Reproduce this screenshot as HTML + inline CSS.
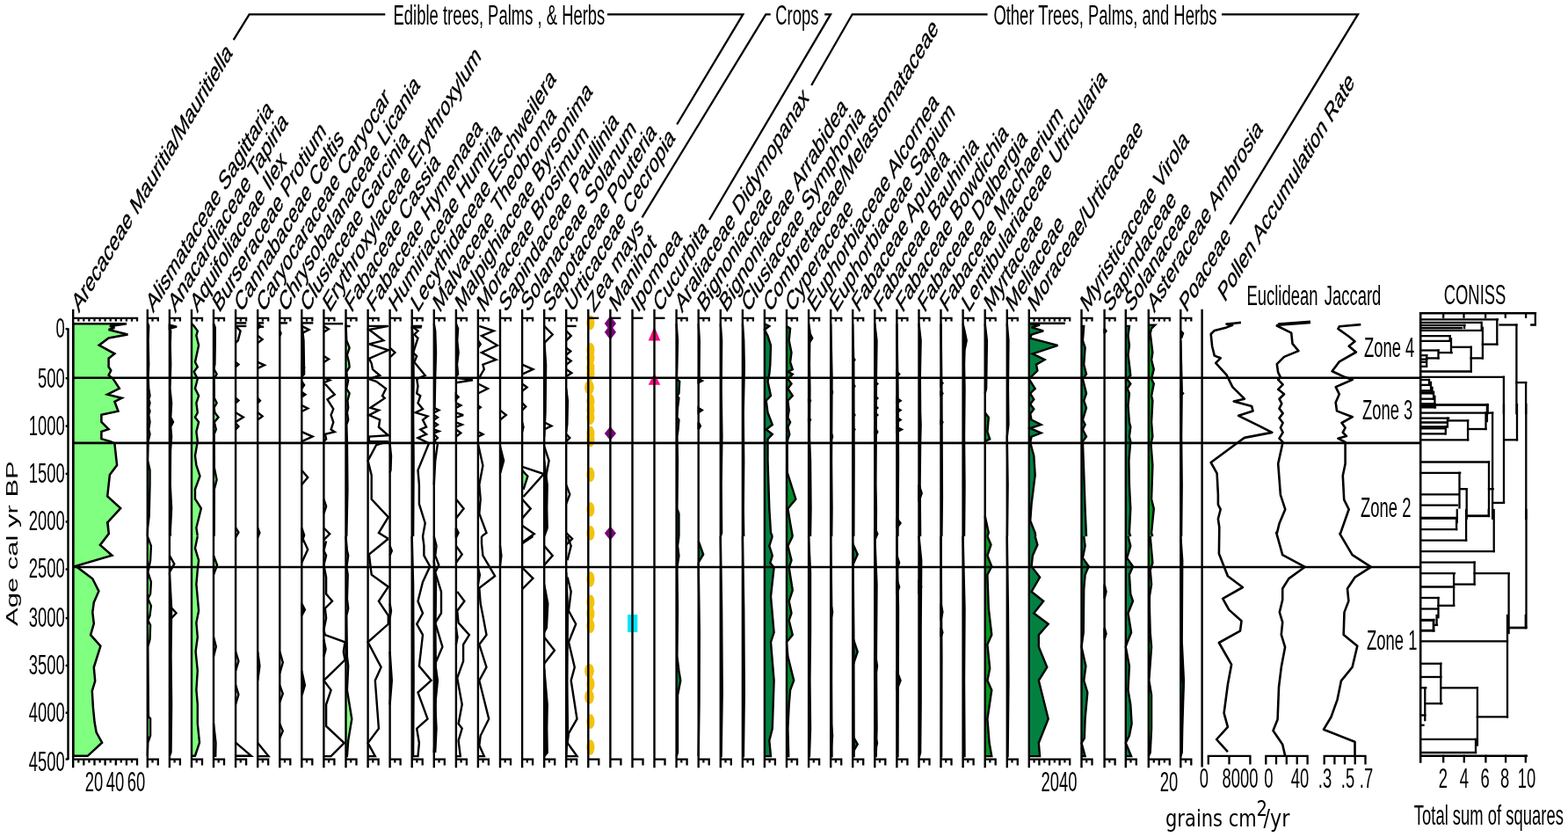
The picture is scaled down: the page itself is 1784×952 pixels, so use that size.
<!DOCTYPE html>
<html><head><meta charset="utf-8"><title>Pollen diagram</title>
<style>html,body{margin:0;padding:0;background:#fff;overflow:hidden}svg{display:block}</style>
</head><body>
<svg width="1784" height="952" viewBox="0 0 1784 952">
<rect width="1784" height="952" fill="#fff"/>
<g font-family="'Liberation Sans', Arial, sans-serif" fill="#000">
<ellipse cx="671.9" cy="367.0" rx="4.6" ry="8.3" fill="#f5c20c"/>
<ellipse cx="671.9" cy="398.2" rx="4.6" ry="8.3" fill="#f5c20c"/>
<ellipse cx="671.9" cy="406.7" rx="4.6" ry="8.3" fill="#f5c20c"/>
<ellipse cx="671.9" cy="418.0" rx="4.6" ry="8.3" fill="#f5c20c"/>
<ellipse cx="671.9" cy="425.0" rx="4.6" ry="8.3" fill="#f5c20c"/>
<ellipse cx="671.9" cy="456.3" rx="4.6" ry="8.3" fill="#f5c20c"/>
<ellipse cx="671.9" cy="466.2" rx="4.6" ry="8.3" fill="#f5c20c"/>
<ellipse cx="671.9" cy="474.7" rx="4.6" ry="8.3" fill="#f5c20c"/>
<ellipse cx="671.9" cy="493.1" rx="4.6" ry="8.3" fill="#f5c20c"/>
<ellipse cx="671.9" cy="500.2" rx="4.6" ry="8.3" fill="#f5c20c"/>
<ellipse cx="671.9" cy="539.9" rx="4.6" ry="8.3" fill="#f5c20c"/>
<ellipse cx="671.9" cy="579.5" rx="4.6" ry="8.3" fill="#f5c20c"/>
<ellipse cx="671.9" cy="606.4" rx="4.6" ry="8.3" fill="#f5c20c"/>
<ellipse cx="671.9" cy="684.7" rx="4.6" ry="8.3" fill="#f5c20c"/>
<ellipse cx="671.9" cy="697.9" rx="4.6" ry="8.3" fill="#f5c20c"/>
<ellipse cx="671.9" cy="711.8" rx="4.6" ry="8.3" fill="#f5c20c"/>
<ellipse cx="671.9" cy="778.0" rx="4.6" ry="8.3" fill="#f5c20c"/>
<ellipse cx="671.9" cy="820.6" rx="4.6" ry="8.3" fill="#f5c20c"/>
<ellipse cx="671.9" cy="658.8" rx="4.6" ry="8.8" fill="#f5c20c"/>
<ellipse cx="671.9" cy="850.0" rx="4.6" ry="8.8" fill="#f5c20c"/>
<ellipse cx="670.5" cy="440.7" rx="5.4" ry="8.3" fill="#f5c20c"/>
<ellipse cx="670.5" cy="763.2" rx="5.4" ry="8.3" fill="#f5c20c"/>
<ellipse cx="670.5" cy="792.6" rx="5.4" ry="8.3" fill="#f5c20c"/>
<polygon points="687.8,368.0 694.4,359.2 701.0,368.0 694.4,376.8" fill="#7a007a"/>
<polygon points="687.8,377.8 694.4,369.0 701.0,377.8 694.4,386.6" fill="#7a007a"/>
<polygon points="687.8,493.1 694.4,485.1 701.0,493.1 694.4,501.1" fill="#7a007a"/>
<polygon points="687.8,606.4 694.4,598.4 701.0,606.4 694.4,614.4" fill="#7a007a"/>
<polygon points="744.5,371.5 751.3,387.5 737.7,387.5" fill="#ff0a84"/>
<polygon points="744.5,424.5 751.3,437.8 737.7,437.8" fill="#ff0a84"/>
<rect x="714.1" y="699.1" width="11.2" height="20" fill="#00e5ff"/>
<g stroke="#000" stroke-width="2.4" stroke-linejoin="miter" stroke-miterlimit="3">
<polygon points="167.8,366.8 167.8,366.8 169.2,370.9 168.6,387.3 169.2,414.6 168.6,428.2 169.2,441.9 170.5,450.1 169.2,454.2 170.5,458.3 169.2,463.7 170.5,467.8 169.2,471.9 170.5,480.1 169.2,488.3 170.5,493.7 169.2,499.2 168.6,501.9 168.1,523.8 170.5,534.7 170.5,551.0 169.7,586.5 168.1,600.2 167.8,609.7 167.8,609.7" fill="#80ff80" stroke="none"/>
<polyline points="167.8,366.8 169.2,370.9 168.6,387.3 169.2,414.6 168.6,428.2 169.2,441.9 170.5,450.1 169.2,454.2 170.5,458.3 169.2,463.7 170.5,467.8 169.2,471.9 170.5,480.1 169.2,488.3 170.5,493.7 169.2,499.2 168.6,501.9 168.1,523.8 170.5,534.7 170.5,551.0 169.7,586.5 168.1,600.2 167.8,609.7" fill="none"/>
<polygon points="192.9,369.6 201.1,371.6 192.9,373.6" fill="#000"/>
<polygon points="192.9,373.6 192.9,373.6 194.2,376.4 193.7,392.8 194.2,414.6 193.4,441.9 195.1,458.3 194.2,474.6 197.0,480.1 194.2,485.5 195.1,496.5 194.0,512.8 193.7,551.0 195.1,578.3 193.7,605.6 194.0,609.7 192.9,609.7" fill="#000" stroke="none"/>
<polyline points="192.9,373.6 194.2,376.4 193.7,392.8 194.2,414.6 193.4,441.9 195.1,458.3 194.2,474.6 197.0,480.1 194.2,485.5 195.1,496.5 194.0,512.8 193.7,551.0 195.1,578.3 193.7,605.6 194.0,609.7" fill="none"/>
<polygon points="218.0,368.2 218.0,368.2 220.7,370.9 224.8,376.4 223.4,381.8 226.1,392.8 222.0,411.9 224.8,417.3 220.7,422.8 224.8,431.0 222.0,441.9 226.1,450.1 223.4,458.3 224.8,469.2 222.0,474.6 226.1,480.1 223.4,491.0 224.8,501.9 222.0,518.3 223.4,529.2 227.5,541.5 222.0,556.5 222.0,567.4 228.9,578.3 223.4,600.2 224.8,609.7 218.0,609.7" fill="#80ff80" stroke="none"/>
<polyline points="218.0,368.2 220.7,370.9 224.8,376.4 223.4,381.8 226.1,392.8 222.0,411.9 224.8,417.3 220.7,422.8 224.8,431.0 222.0,441.9 226.1,450.1 223.4,458.3 224.8,469.2 222.0,474.6 226.1,480.1 223.4,491.0 224.8,501.9 222.0,518.3 223.4,529.2 227.5,541.5 222.0,556.5 222.0,567.4 228.9,578.3 223.4,600.2 224.8,609.7" fill="none"/>
<polygon points="243.0,368.2 243.0,368.2 243.8,387.3 243.6,420.0 246.6,425.5 243.6,431.0 243.8,452.8 246.6,458.3 243.6,463.7 244.4,469.2 248.5,474.6 243.8,480.1 245.8,488.3 243.6,493.7 243.8,531.9 246.6,545.6 243.8,556.5 243.6,609.7 243.0,609.7" fill="#80ff80" stroke="none"/>
<polyline points="243.0,368.2 243.8,387.3 243.6,420.0 246.6,425.5 243.6,431.0 243.8,452.8 246.6,458.3 243.6,463.7 244.4,469.2 248.5,474.6 243.8,480.1 245.8,488.3 243.6,493.7 243.8,531.9 246.6,545.6 243.8,556.5 243.6,609.7" fill="none"/>
<polygon points="243.0,368.2 243.0,368.2 244.7,372.3 244.7,392.8 244.4,414.6 243.3,418.7 243.0,418.7" fill="#000" stroke="none"/>
<polyline points="243.0,368.2 244.7,372.3 244.7,392.8 244.4,414.6 243.3,418.7" fill="none"/>
<polyline points="268.1,370.9 273.6,376.4 270.8,387.3 268.1,390.0" fill="none"/>
<polyline points="268.1,411.9 271.4,414.6 268.1,417.3" fill="none"/>
<polyline points="268.1,452.8 271.4,455.5 268.1,458.3" fill="none"/>
<polyline points="268.1,469.2 276.8,474.6 268.1,480.1" fill="none"/>
<polyline points="268.1,481.5 271.4,484.9 268.1,488.3" fill="none"/>
<polyline points="268.1,600.2 271.4,605.6 268.1,611.1" fill="none"/>
<polygon points="293.2,368.2 296.5,370.9 293.2,373.7" fill="#000"/>
<polyline points="293.2,381.9 298.6,386.0 293.2,390.1" fill="none"/>
<polyline points="293.2,411.9 300.8,415.3 293.2,418.8" fill="none"/>
<polygon points="293.2,452.9 295.9,455.7 293.2,458.4" fill="#000"/>
<polyline points="293.2,469.3 298.6,473.4 293.2,477.5" fill="none"/>
<polygon points="293.2,600.5 295.4,606.0 293.2,611.4" fill="#000"/>
<polygon points="318.3,376.4 319.6,379.1 318.3,381.9" fill="#000"/>
<polygon points="343.3,368.2 343.3,368.2 345.5,387.3 346.1,425.6 343.3,428.3 343.3,428.3" fill="#000" stroke="none"/>
<polyline points="343.3,368.2 345.5,387.3 346.1,425.6 343.3,428.3" fill="none"/>
<polyline points="343.3,370.9 351.5,375.0 343.3,379.1" fill="none"/>
<polygon points="343.3,414.7 346.1,418.1 343.3,421.5" fill="#000"/>
<polygon points="343.3,433.8 346.1,437.9 343.3,442.0" fill="#000"/>
<polygon points="343.3,446.1 347.4,448.8 343.3,451.6" fill="#000"/>
<polyline points="343.3,461.1 350.2,464.5 343.3,468.0" fill="none"/>
<polyline points="343.3,491.2 355.6,496.6 343.3,502.1" fill="none"/>
<polyline points="343.3,534.9 350.2,543.1 343.3,551.3" fill="none"/>
<polygon points="343.3,600.5 346.1,608.7 343.3,616.9" fill="#000"/>
<polyline points="368.4,368.2 390.3,368.2" fill="none"/>
<polyline points="368.4,370.9 373.9,374.3 368.4,377.8" fill="none"/>
<polyline points="368.4,405.1 373.9,408.5 368.4,411.9" fill="none"/>
<polyline points="368.4,429.7 375.2,432.4 368.4,435.2" fill="none"/>
<polyline points="368.4,436.5 371.1,437.9 380.7,448.8 372.5,454.3 379.3,465.2 376.6,472.1 379.3,480.3 376.6,488.5 380.7,491.2 369.8,493.9 371.1,499.4 368.4,502.1" fill="none"/>
<polyline points="368.4,567.7 371.1,575.9 368.4,584.1" fill="none"/>
<polyline points="368.4,600.5 375.2,607.3 368.4,614.2" fill="none"/>
<polygon points="393.5,368.2 393.5,368.2 394.3,387.3 397.6,395.5 394.9,403.7 397.0,411.9 397.6,417.4 394.3,422.9 394.9,429.7 396.2,432.4 394.3,442.0 397.6,447.5 395.4,455.7 396.2,463.9 394.9,469.3 396.2,477.5 394.3,483.0 394.9,502.1 395.4,556.8 394.3,610.1 393.5,610.1" fill="#80ff80" stroke="none"/>
<polyline points="393.5,368.2 394.3,387.3 397.6,395.5 394.9,403.7 397.0,411.9 397.6,417.4 394.3,422.9 394.9,429.7 396.2,432.4 394.3,442.0 397.6,447.5 395.4,455.7 396.2,463.9 394.9,469.3 396.2,477.5 394.3,483.0 394.9,502.1 395.4,556.8 394.3,610.1" fill="none"/>
<polyline points="418.6,370.9 441.8,370.9 419.9,375.0 436.3,387.3 419.9,391.4 441.8,398.3 419.9,407.8 422.7,413.3 424.0,420.1 432.2,427.0 419.9,431.1 428.1,433.8 439.1,442.0 435.0,450.2 437.7,452.9 421.3,463.9 430.9,466.6 419.9,472.1 432.2,477.5 430.9,485.7 441.8,495.3 419.9,496.6 419.9,502.1 441.8,502.1 428.1,506.2 418.6,524.0 422.7,540.4 422.7,567.7 441.8,588.2 430.9,606.0 441.8,612.8" fill="none"/>
<polygon points="443.6,504.8 443.6,504.8 445.0,518.5 444.5,534.9 443.6,537.6 443.6,537.6" fill="#000" stroke="none"/>
<polyline points="443.6,504.8 445.0,518.5 444.5,534.9 443.6,537.6" fill="none"/>
<polyline points="443.6,395.5 449.4,401.0 443.6,406.5" fill="none"/>
<polygon points="468.7,370.9 468.7,370.9 470.1,387.3 470.6,428.3 470.1,469.3 470.6,524.0 470.1,610.1 468.7,610.1" fill="#80ff80" stroke="none"/>
<polyline points="468.7,370.9 470.1,387.3 470.6,428.3 470.1,469.3 470.6,524.0 470.1,610.1" fill="none"/>
<polyline points="470.1,372.3 475.5,376.4 471.4,380.5 475.5,384.6 470.1,401.0 474.2,405.1 471.4,411.9 483.7,427.0 474.2,431.1 475.5,439.3 474.2,447.5 478.3,450.2 475.5,458.4 481.0,465.2 472.8,469.3 486.5,473.4 481.0,477.5 485.1,485.7 478.3,488.5 485.1,493.9 475.5,498.0 486.5,503.5 487.8,504.8 475.5,534.9 476.9,551.3 476.9,573.2 483.7,595.0 481.0,610.1" fill="none"/>
<polygon points="493.8,368.2 493.8,368.2 495.2,376.4 496.0,401.0 495.2,428.3 494.6,463.9 493.8,466.6 493.8,466.6" fill="#000" stroke="none"/>
<polyline points="493.8,368.2 495.2,376.4 496.0,401.0 495.2,428.3 494.6,463.9 493.8,466.6" fill="none"/>
<polyline points="493.8,463.9 499.3,466.6 493.8,469.3" fill="none"/>
<polyline points="493.8,472.1 497.9,474.8 493.8,477.5" fill="none"/>
<polyline points="493.8,480.3 497.9,483.0 493.8,485.7" fill="none"/>
<polyline points="493.8,488.5 499.3,490.5 493.8,492.5" fill="none"/>
<polyline points="493.8,493.9 497.9,498.0 493.8,502.1" fill="none"/>
<polyline points="493.8,502.1 497.9,504.8 495.2,524.0 493.8,551.3" fill="none"/>
<polygon points="518.9,368.2 518.9,368.2 521.1,373.7 520.2,387.3 521.6,401.0 520.0,414.7 521.1,425.6 518.9,428.3 518.9,428.3" fill="#000" stroke="none"/>
<polyline points="518.9,368.2 521.1,373.7 520.2,387.3 521.6,401.0 520.0,414.7 521.1,425.6 518.9,428.3" fill="none"/>
<polyline points="518.9,429.7 538.0,432.4 518.9,435.2" fill="none"/>
<polygon points="518.9,448.8 521.6,451.6 518.9,454.3" fill="#000"/>
<polyline points="518.9,458.4 524.3,461.1 518.9,463.9" fill="none"/>
<polyline points="518.9,469.3 527.1,472.1 518.9,474.8" fill="none"/>
<polyline points="518.9,480.3 525.7,483.0 518.9,485.7" fill="none"/>
<polyline points="518.9,488.5 524.3,492.5 518.9,496.6" fill="none"/>
<polyline points="518.9,567.7 527.6,578.6 518.9,589.6" fill="none"/>
<polygon points="518.9,600.5 521.6,606.0 518.9,611.4" fill="#000"/>
<polyline points="545.3,370.9 561.7,376.4 548.0,381.9 565.8,392.8 548.0,401.0 564.4,409.2 549.4,414.7 550.8,420.1 546.7,427.0 545.3,431.1" fill="none"/>
<polyline points="543.9,436.5 554.9,442.0 543.9,447.5" fill="none"/>
<polyline points="543.9,461.1 546.7,463.2 543.9,465.2" fill="none"/>
<polyline points="543.9,491.2 549.4,493.9 543.9,496.6" fill="none"/>
<polygon points="543.9,387.3 543.9,387.3 546.7,391.4 543.9,395.5 543.9,395.5" fill="#80ff80" stroke="none"/>
<polyline points="543.9,387.3 546.7,391.4 543.9,395.5" fill="none"/>
<polyline points="543.9,504.8 549.4,529.4 545.3,551.3 546.7,567.7 545.3,584.1 553.5,606.0 548.0,610.1" fill="none"/>
<polyline points="569.0,466.6 575.8,472.1 569.0,477.5" fill="none"/>
<polygon points="569.0,507.6 569.0,507.6 573.1,524.0 569.3,537.6 569.0,537.6" fill="#000" stroke="none"/>
<polyline points="569.0,507.6 573.1,524.0 569.3,537.6" fill="none"/>
<polyline points="594.1,414.7 606.4,420.1 594.1,425.6" fill="none"/>
<polyline points="594.1,436.5 599.6,440.6 594.1,444.7" fill="none"/>
<polyline points="594.1,458.4 598.2,462.5 594.1,466.6" fill="none"/>
<polyline points="594.1,480.3 595.5,485.7 594.1,491.2" fill="none"/>
<polyline points="594.1,530.8 618.7,539.0 595.5,565.0" fill="none"/>
<polygon points="594.1,534.9 594.1,534.9 600.4,541.7 595.5,556.8 594.1,556.8" fill="#80ff80" stroke="none"/>
<polyline points="594.1,534.9 600.4,541.7 595.5,556.8" fill="none"/>
<polyline points="594.1,567.7 603.7,578.6 594.1,589.6" fill="none"/>
<polyline points="594.1,597.8 607.8,607.3 594.1,616.9" fill="none"/>
<polyline points="619.2,370.9 628.7,380.5 619.2,390.1" fill="none"/>
<polygon points="619.2,387.3 619.2,387.3 621.1,414.7 620.5,469.3 619.2,496.6 619.2,496.6" fill="#000" stroke="none"/>
<polyline points="619.2,387.3 621.1,414.7 620.5,469.3 619.2,496.6" fill="none"/>
<polyline points="619.2,480.3 627.4,484.4 619.2,488.5" fill="none"/>
<polyline points="619.2,507.6 624.6,524.0 620.5,545.8" fill="none"/>
<polygon points="619.2,524.0 619.2,524.0 622.7,551.3 622.2,578.6 622.7,600.5 619.2,610.1 619.2,610.1" fill="#000" stroke="none"/>
<polyline points="619.2,524.0 622.7,551.3 622.2,578.6 622.7,600.5 619.2,610.1" fill="none"/>
<polyline points="644.2,376.4 649.7,381.9 644.2,387.3" fill="none"/>
<polyline points="644.2,395.5 649.2,399.6 644.2,403.7" fill="none"/>
<polyline points="644.2,406.5 649.7,410.6 644.2,414.7" fill="none"/>
<polyline points="644.2,420.1 650.3,424.2 644.2,428.3" fill="none"/>
<polyline points="644.2,493.9 648.3,498.0 644.2,502.1" fill="none"/>
<polyline points="644.2,551.3 648.3,562.2 644.2,573.2" fill="none"/>
<polyline points="644.2,606.0 651.1,612.8 644.2,619.6" fill="none"/>
<polygon points="644.2,442.0 644.2,442.0 645.9,455.7 645.3,483.0 644.2,491.2 644.2,491.2" fill="#000" stroke="none"/>
<polyline points="644.2,442.0 645.9,455.7 645.3,483.0 644.2,491.2" fill="none"/>
<polygon points="167.8,610.0 167.8,610.0 171.9,620.9 171.1,637.3 168.3,650.9 171.9,661.9 171.1,675.5 168.3,681.0 171.9,689.1 170.5,700.1 168.3,705.5 171.1,711.0 170.5,727.4 168.3,735.5 168.6,773.8 168.9,814.7 171.1,817.4 171.1,836.5 168.3,844.7 167.8,859.7 167.8,859.7" fill="#80ff80" stroke="none"/>
<polyline points="167.8,610.0 171.9,620.9 171.1,637.3 168.3,650.9 171.9,661.9 171.1,675.5 168.3,681.0 171.9,689.1 170.5,700.1 168.3,705.5 171.1,711.0 170.5,727.4 168.3,735.5 168.6,773.8 168.9,814.7 171.1,817.4 171.1,836.5 168.3,844.7 167.8,859.7 167.8,859.7" fill="none"/>
<polyline points="192.9,631.8 198.3,641.4 192.9,650.9" fill="none"/>
<polyline points="192.9,689.1 200.5,697.3 192.9,705.5" fill="none"/>
<polygon points="192.9,650.9 192.9,650.9 195.1,691.9 194.5,746.5 195.1,801.0 194.5,855.6 192.9,859.7 192.9,859.7" fill="#000" stroke="none"/>
<polyline points="192.9,650.9 195.1,691.9 194.5,746.5 195.1,801.0 194.5,855.6 192.9,859.7 192.9,859.7" fill="none"/>
<polygon points="218.0,610.0 224.8,610.0 222.0,623.6 226.1,637.3 224.8,648.2 223.4,664.6 226.1,694.6 223.4,708.3 224.8,724.6 222.6,741.0 224.8,762.8 223.4,784.7 224.8,801.0 224.8,822.9 227.0,844.7 222.0,859.7 218.0,859.7" fill="#80ff80" stroke="none"/>
<polyline points="224.8,610.0 222.0,623.6 226.1,637.3 224.8,648.2 223.4,664.6 226.1,694.6 223.4,708.3 224.8,724.6 222.6,741.0 224.8,762.8 223.4,784.7 224.8,801.0 224.8,822.9 227.0,844.7 222.0,859.7 218.0,859.7" fill="none"/>
<polygon points="243.0,631.8 243.0,631.8 247.1,642.8 243.0,653.7 243.0,653.7" fill="#80ff80" stroke="none"/>
<polyline points="243.0,631.8 247.1,642.8 243.0,653.7" fill="none"/>
<polygon points="243.0,724.6 243.0,724.6 245.8,735.5 243.0,746.5 243.0,746.5" fill="#80ff80" stroke="none"/>
<polyline points="243.0,724.6 245.8,735.5 243.0,746.5" fill="none"/>
<polygon points="243.0,822.9 243.0,822.9 245.5,844.7 245.2,859.7 243.0,859.7" fill="#80ff80" stroke="none"/>
<polyline points="243.0,822.9 245.5,844.7 245.2,859.7 243.0,859.7" fill="none"/>
<polyline points="268.1,741.0 271.4,751.9 268.1,762.8" fill="none"/>
<polyline points="268.1,779.2 271.4,790.1 268.1,801.0" fill="none"/>
<polyline points="268.1,844.7 285.8,859.7 268.1,859.7" fill="none"/>
<polygon points="293.2,741.2 295.4,757.6 293.2,774.0" fill="#000"/>
<polyline points="293.2,845.0 305.5,860.1 293.2,860.1" fill="none"/>
<polyline points="318.3,741.2 321.8,753.5 318.3,765.8" fill="none"/>
<polyline points="318.3,779.4 321.8,789.0 318.3,798.6" fill="none"/>
<polyline points="318.3,823.2 321.8,831.4 318.3,839.6" fill="none"/>
<polyline points="343.3,610.0 350.2,625.0 343.3,640.1" fill="none"/>
<polygon points="343.3,686.5 346.9,693.4 343.3,700.2" fill="#000"/>
<polygon points="343.3,763.0 343.3,763.0 346.9,779.4 343.6,790.4 343.3,790.4" fill="#000" stroke="none"/>
<polyline points="343.3,763.0 346.9,779.4 343.6,790.4" fill="none"/>
<polyline points="371.1,615.5 368.4,626.4 371.1,631.9 368.4,642.8 371.1,656.5 371.1,675.6 378.0,683.8 369.8,692.0 371.1,702.9 368.4,716.6 369.8,722.1 392.5,730.3 390.8,741.2 392.5,750.7 368.4,774.0 376.6,784.9 371.1,801.3 371.1,825.9 391.6,845.0 376.6,860.1 368.4,860.1" fill="none"/>
<polygon points="368.4,727.5 368.4,727.5 370.6,738.5 368.4,746.6 368.4,746.6" fill="#80ff80" stroke="none"/>
<polyline points="368.4,727.5 370.6,738.5 368.4,746.6" fill="none"/>
<polygon points="393.5,610.0 393.5,610.0 394.9,626.4 396.2,631.9 394.3,645.5 395.7,653.7 394.9,681.1 396.2,692.0 394.3,700.2 394.9,746.6 396.2,757.6 394.9,784.9 400.3,817.7 396.2,842.3 394.9,860.1 393.5,860.1" fill="#80ff80" stroke="none"/>
<polyline points="393.5,610.0 394.9,626.4 396.2,631.9 394.3,645.5 395.7,653.7 394.9,681.1 396.2,692.0 394.3,700.2 394.9,746.6 396.2,757.6 394.9,784.9 400.3,817.7 396.2,842.3 394.9,860.1 393.5,860.1" fill="none"/>
<polyline points="441.8,612.7 419.9,630.5 422.7,653.7 441.8,667.4 430.9,683.8 441.8,700.2 441.8,709.8 418.6,730.3 433.6,758.9 426.8,774.0 430.9,828.6 418.6,845.0 426.8,860.1 418.6,860.1" fill="none"/>
<polyline points="443.6,620.9 445.8,626.4 443.6,631.9" fill="none"/>
<polygon points="443.6,686.5 443.6,686.5 445.0,694.7 443.6,702.9 443.6,702.9" fill="#000" stroke="none"/>
<polyline points="443.6,686.5 445.0,694.7 443.6,702.9" fill="none"/>
<polygon points="443.6,741.2 443.6,741.2 445.8,774.0 443.6,801.3 443.6,801.3" fill="#000" stroke="none"/>
<polyline points="443.6,741.2 445.8,774.0 443.6,801.3" fill="none"/>
<polyline points="481.0,610.0 482.4,620.9 482.4,631.9 489.2,644.2 481.0,661.9 475.5,683.8 481.0,697.5 474.2,709.8 481.0,722.1 476.9,757.6 490.6,774.0 475.5,787.6 486.5,817.7 474.2,828.6 476.9,845.0 475.5,860.1 468.7,860.1" fill="none"/>
<polygon points="468.7,610.0 468.7,610.0 470.1,664.7 470.6,774.0 470.1,860.1 468.7,860.1" fill="#80ff80" stroke="none"/>
<polyline points="468.7,610.0 470.1,664.7 470.6,774.0 470.1,860.1 468.7,860.1" fill="none"/>
<polyline points="493.8,610.0 496.5,620.9 495.2,631.9 499.3,642.8 495.2,651.0 502.0,672.9 502.0,697.5 495.2,708.4 503.4,735.7 495.2,754.8 497.9,774.0 495.2,801.3 496.5,828.6 495.2,856.0" fill="none"/>
<polygon points="493.8,637.3 493.8,637.3 496.0,664.7 495.4,719.3 496.0,774.0 495.2,828.6 493.8,856.0 493.8,856.0" fill="#000" stroke="none"/>
<polyline points="493.8,637.3 496.0,664.7 495.4,719.3 496.0,774.0 495.2,828.6 493.8,856.0" fill="none"/>
<polyline points="518.9,620.9 525.7,630.5 518.9,640.1" fill="none"/>
<polyline points="520.2,672.9 528.4,683.8 520.2,694.7 521.6,708.4 533.9,722.1 527.1,733.0 527.1,752.1 520.2,771.2 525.7,801.3 521.6,823.2 525.7,828.6 521.6,842.3 523.8,860.1 518.9,860.1" fill="none"/>
<polygon points="518.9,713.9 518.9,713.9 520.5,724.8 518.9,733.0 518.9,733.0" fill="#80ff80" stroke="none"/>
<polyline points="518.9,713.9 520.5,724.8 518.9,733.0" fill="none"/>
<polyline points="548.0,610.0 548.0,618.2 549.4,631.9 563.1,655.1 545.3,668.8 546.7,686.5 549.4,700.2 553.5,722.1 545.3,733.0 553.5,758.9 545.3,774.0 556.2,817.7 546.7,836.8 545.3,847.8 550.8,860.1 543.9,860.1" fill="none"/>
<polygon points="543.9,645.5 543.9,645.5 545.9,653.7 543.9,664.7 543.9,664.7" fill="#80ff80" stroke="none"/>
<polyline points="543.9,645.5 545.9,653.7 543.9,664.7" fill="none"/>
<polygon points="569.0,620.9 569.0,620.9 570.4,631.9 569.0,642.8 569.0,642.8" fill="#000" stroke="none"/>
<polyline points="569.0,620.9 570.4,631.9 569.0,642.8" fill="none"/>
<polyline points="606.4,610.0 594.1,618.2" fill="none"/>
<polyline points="594.1,645.5 606.4,657.8 594.1,670.1" fill="none"/>
<polyline points="619.2,620.9 628.7,631.9 619.2,642.8" fill="none"/>
<polygon points="619.2,664.7 619.2,664.7 623.3,686.5 621.9,713.9 619.2,719.3 619.2,719.3" fill="#000" stroke="none"/>
<polyline points="619.2,664.7 623.3,686.5 621.9,713.9 619.2,719.3" fill="none"/>
<polyline points="619.2,724.8 630.9,739.8 619.2,754.8" fill="none"/>
<polygon points="619.2,760.3 619.2,760.3 622.7,801.3 622.2,828.6 622.7,856.0 619.2,860.1 619.2,860.1" fill="#000" stroke="none"/>
<polyline points="619.2,760.3 622.7,801.3 622.2,828.6 622.7,856.0 619.2,860.1 619.2,860.1" fill="none"/>
<polyline points="645.6,610.0 649.7,620.9 645.6,637.3" fill="none"/>
<polyline points="645.6,656.5 649.7,672.9 647.0,694.7 655.2,709.8 647.0,730.3 653.8,758.9 649.7,774.0 656.5,817.7 647.0,834.1 645.6,845.0 656.5,860.1 644.2,860.1" fill="none"/>
<polygon points="644.2,651.0 644.2,651.0 645.9,692.0 645.3,774.0 645.9,828.6 644.2,860.1 644.2,860.1" fill="#000" stroke="none"/>
<polyline points="644.2,651.0 645.9,692.0 645.3,774.0 645.9,828.6 644.2,860.1 644.2,860.1" fill="none"/>
<polygon points="769.6,368.2 769.6,368.2 771.0,387.3 770.4,414.7 769.9,431.1 773.2,433.8 772.4,447.5 770.4,450.2 772.4,452.9 771.0,463.9 770.4,474.8 772.4,477.5 771.5,488.5 770.4,496.6 771.0,524.0 770.4,578.6 772.4,584.1 772.4,610.1 769.6,610.1" fill="#028040" stroke="none"/>
<polyline points="769.6,368.2 771.0,387.3 770.4,414.7 769.9,431.1 773.2,433.8 772.4,447.5 770.4,450.2 772.4,452.9 771.0,463.9 770.4,474.8 772.4,477.5 771.5,488.5 770.4,496.6 771.0,524.0 770.4,578.6 772.4,584.1 772.4,610.1" fill="none"/>
<polygon points="794.7,431.1 798.8,433.1 794.7,435.2" fill="#028040"/>
<polygon points="794.7,463.9 798.8,466.6 794.7,469.3" fill="#028040"/>
<polygon points="794.7,480.3 796.9,484.4 794.7,488.5" fill="#000"/>
<polygon points="794.7,368.2 794.7,368.2 795.8,387.3 795.5,428.3 794.7,431.1 794.7,431.1" fill="#000" stroke="none"/>
<polyline points="794.7,368.2 795.8,387.3 795.5,428.3 794.7,431.1" fill="none"/>
<polygon points="819.8,368.2 819.8,368.2 821.1,387.3 820.6,442.0 821.4,496.6 820.6,551.3 821.1,606.0 819.8,610.1 819.8,610.1" fill="#000" stroke="none"/>
<polyline points="819.8,368.2 821.1,387.3 820.6,442.0 821.4,496.6 820.6,551.3 821.1,606.0 819.8,610.1" fill="none"/>
<polygon points="844.9,368.2 844.9,368.2 846.2,387.3 846.8,417.4 845.7,469.3 846.2,524.0 845.7,578.6 846.2,610.1 844.9,610.1" fill="#000" stroke="none"/>
<polyline points="844.9,368.2 846.2,387.3 846.8,417.4 845.7,469.3 846.2,524.0 845.7,578.6 846.2,610.1" fill="none"/>
<polygon points="869.9,368.2 869.9,368.2 875.3,370.9 869.9,375.0 873.5,381.9 877.0,392.8 876.3,414.7 875.3,425.6 873.5,433.8 877.0,450.2 871.7,455.7 873.5,469.3 878.8,483.0 871.7,488.5 878.8,493.9 873.5,499.4 873.5,524.0 875.3,578.6 877.0,606.0 878.8,610.1 869.9,610.1" fill="#028040" stroke="none"/>
<polyline points="869.9,368.2 875.3,370.9 869.9,375.0 873.5,381.9 877.0,392.8 876.3,414.7 875.3,425.6 873.5,433.8 877.0,450.2 871.7,455.7 873.5,469.3 878.8,483.0 871.7,488.5 878.8,493.9 873.5,499.4 873.5,524.0 875.3,578.6 877.0,606.0 878.8,610.1" fill="none"/>
<polygon points="895.0,370.9 895.0,370.9 899.1,373.7 897.7,387.3 900.5,401.0 899.1,411.9 901.8,420.1 896.4,422.9 901.8,425.6 896.4,431.1 900.5,436.5 896.4,442.0 901.8,450.2 896.4,455.7 897.7,466.6 896.4,474.8 899.1,480.3 896.4,485.7 898.3,493.9 896.4,499.4 895.6,504.8 895.8,537.6 905.4,567.7 896.4,578.6 899.1,595.0 901.8,610.1 895.0,610.1" fill="#078a2a" stroke="none"/>
<polyline points="895.0,370.9 899.1,373.7 897.7,387.3 900.5,401.0 899.1,411.9 901.8,420.1 896.4,422.9 901.8,425.6 896.4,431.1 900.5,436.5 896.4,442.0 901.8,450.2 896.4,455.7 897.7,466.6 896.4,474.8 899.1,480.3 896.4,485.7 898.3,493.9 896.4,499.4 895.6,504.8 895.8,537.6 905.4,567.7 896.4,578.6 899.1,595.0 901.8,610.1" fill="none"/>
<polygon points="920.1,376.4 920.1,376.4 924.2,384.6 920.6,390.1 920.1,390.1" fill="#028040" stroke="none"/>
<polyline points="920.1,376.4 924.2,384.6 920.6,390.1" fill="none"/>
<polygon points="769.6,610.0 772.4,610.0 771.0,620.9 772.4,631.9 770.4,645.5 771.0,692.0 770.4,746.6 772.4,763.0 774.3,774.0 771.0,790.4 771.0,856.0 769.6,860.1 769.6,860.1" fill="#028040" stroke="none"/>
<polyline points="772.4,610.0 771.0,620.9 772.4,631.9 770.4,645.5 771.0,692.0 770.4,746.6 772.4,763.0 774.3,774.0 771.0,790.4 771.0,856.0 769.6,860.1 769.6,860.1" fill="none"/>
<polygon points="794.7,615.5 794.7,615.5 800.2,630.5 796.1,637.3 794.7,640.1 794.7,640.1" fill="#028040" stroke="none"/>
<polyline points="794.7,615.5 800.2,630.5 796.1,637.3 794.7,640.1" fill="none"/>
<polygon points="794.7,640.1 794.7,640.1 795.8,719.3 795.5,801.3 794.7,860.1 794.7,860.1" fill="#000" stroke="none"/>
<polyline points="794.7,640.1 795.8,719.3 795.5,801.3 794.7,860.1 794.7,860.1" fill="none"/>
<polygon points="819.8,610.0 819.8,610.0 821.1,692.0 821.7,787.6 820.6,860.1 819.8,860.1" fill="#000" stroke="none"/>
<polyline points="819.8,610.0 821.1,692.0 821.7,787.6 820.6,860.1 819.8,860.1" fill="none"/>
<polygon points="844.9,610.0 844.9,610.0 846.2,692.0 846.8,787.6 845.9,860.1 844.9,860.1" fill="#000" stroke="none"/>
<polyline points="844.9,610.0 846.2,692.0 846.8,787.6 845.9,860.1 844.9,860.1" fill="none"/>
<polygon points="869.9,610.0 878.8,610.0 875.3,620.9 878.8,631.9 876.3,640.1 880.6,645.5 877.0,678.3 880.6,719.3 877.0,730.3 880.6,774.0 878.8,828.6 875.3,842.3 877.0,860.1 869.9,860.1" fill="#028040" stroke="none"/>
<polyline points="878.8,610.0 875.3,620.9 878.8,631.9 876.3,640.1 880.6,645.5 877.0,678.3 880.6,719.3 877.0,730.3 880.6,774.0 878.8,828.6 875.3,842.3 877.0,860.1 869.9,860.1" fill="none"/>
<polygon points="895.0,610.0 901.8,610.0 896.4,620.9 900.5,637.3 897.7,645.5 901.8,671.5 897.7,683.8 900.5,697.5 897.7,705.7 901.8,722.1 895.0,730.3 896.4,746.6 903.2,774.0 899.1,784.9 897.7,801.3 896.4,828.6 897.2,860.1 895.0,860.1" fill="#078a2a" stroke="none"/>
<polyline points="901.8,610.0 896.4,620.9 900.5,637.3 897.7,645.5 901.8,671.5 897.7,683.8 900.5,697.5 897.7,705.7 901.8,722.1 895.0,730.3 896.4,746.6 903.2,774.0 899.1,784.9 897.7,801.3 896.4,828.6 897.2,860.1 895.0,860.1" fill="none"/>
<polygon points="920.1,368.2 920.1,368.2 921.4,376.4 920.9,414.7 921.4,442.0 920.9,496.6 922.0,524.0 922.5,578.6 922.0,610.1 920.1,610.1" fill="#000" stroke="none"/>
<polyline points="920.1,368.2 921.4,376.4 920.9,414.7 921.4,442.0 920.9,496.6 922.0,524.0 922.5,578.6 922.0,610.1" fill="none"/>
<polygon points="920.1,452.9 922.0,455.7 920.1,458.4" fill="#000"/>
<polygon points="920.1,474.8 922.0,477.5 920.1,480.3" fill="#000"/>
<polygon points="945.2,442.0 947.1,446.1 945.2,450.2" fill="#000"/>
<polygon points="945.2,491.2 947.1,496.6 945.2,502.1" fill="#000"/>
<polygon points="945.2,368.2 945.2,368.2 946.2,414.7 946.5,428.3 946.0,524.0 946.5,578.6 946.2,610.1 945.2,610.1" fill="#000" stroke="none"/>
<polyline points="945.2,368.2 946.2,414.7 946.5,428.3 946.0,524.0 946.5,578.6 946.2,610.1" fill="none"/>
<polygon points="970.2,406.5 972.4,409.2 970.2,411.9" fill="#000"/>
<polygon points="970.2,436.5 972.4,439.3 970.2,442.0" fill="#000"/>
<polygon points="970.2,469.3 972.4,472.1 970.2,474.8" fill="#000"/>
<polygon points="970.2,485.7 972.4,488.5 970.2,491.2" fill="#000"/>
<polygon points="970.2,368.2 970.2,368.2 971.3,414.7 971.6,524.0 971.3,610.1 970.2,610.1" fill="#000" stroke="none"/>
<polyline points="970.2,368.2 971.3,414.7 971.6,524.0 971.3,610.1" fill="none"/>
<polygon points="995.3,368.2 995.3,368.2 997.5,387.3 996.9,428.3 996.7,496.6 996.4,551.3 996.9,578.6 996.7,610.1 995.3,610.1" fill="#000" stroke="none"/>
<polyline points="995.3,368.2 997.5,387.3 996.9,428.3 996.7,496.6 996.4,551.3 996.9,578.6 996.7,610.1" fill="none"/>
<polygon points="995.3,433.8 998.3,436.5 995.3,439.3" fill="#028040"/>
<polygon points="995.3,450.2 998.3,452.9 995.3,455.7" fill="#028040"/>
<polygon points="995.3,461.1 998.3,463.9 995.3,466.6" fill="#028040"/>
<polygon points="995.3,469.3 998.3,472.1 995.3,474.8" fill="#028040"/>
<polygon points="995.3,485.7 998.3,491.2 995.3,496.6" fill="#028040"/>
<polygon points="995.3,600.5 998.3,607.3 995.3,614.2" fill="#028040"/>
<polygon points="1020.4,422.9 1023.1,425.6 1020.4,428.3" fill="#028040"/>
<polygon points="1020.4,452.9 1024.5,455.7 1020.4,458.4" fill="#028040"/>
<polygon points="1020.4,463.9 1024.5,466.6 1020.4,469.3" fill="#028040"/>
<polygon points="1020.4,474.8 1024.5,477.5 1020.4,480.3" fill="#028040"/>
<polygon points="1020.4,485.7 1025.8,488.5 1020.4,491.2" fill="#028040"/>
<polygon points="1020.4,589.6 1024.5,595.0 1020.4,600.5" fill="#028040"/>
<polygon points="1020.4,368.2 1020.4,368.2 1021.5,442.0 1022.0,524.0 1021.5,610.1 1020.4,610.1" fill="#000" stroke="none"/>
<polyline points="1020.4,368.2 1021.5,442.0 1022.0,524.0 1021.5,610.1" fill="none"/>
<polygon points="1045.5,368.2 1045.5,368.2 1047.6,387.3 1046.8,428.3 1047.1,469.3 1047.6,483.0 1047.1,502.1 1046.6,551.3 1047.1,610.1 1045.5,610.1" fill="#000" stroke="none"/>
<polyline points="1045.5,368.2 1047.6,387.3 1046.8,428.3 1047.1,469.3 1047.6,483.0 1047.1,502.1 1046.6,551.3 1047.1,610.1" fill="none"/>
<polygon points="1045.5,551.3 1048.7,560.9 1045.5,570.4" fill="#028040"/>
<polygon points="1070.5,433.8 1072.4,435.8 1070.5,437.9" fill="#000"/>
<polygon points="1070.5,444.7 1072.4,447.5 1070.5,450.2" fill="#000"/>
<polygon points="1070.5,477.5 1072.4,480.3 1070.5,483.0" fill="#000"/>
<polygon points="1070.5,368.2 1070.5,368.2 1071.4,442.0 1071.9,565.0 1071.4,610.1 1070.5,610.1" fill="#000" stroke="none"/>
<polyline points="1070.5,368.2 1071.4,442.0 1071.9,565.0 1071.4,610.1" fill="none"/>
<polygon points="920.1,610.0 920.1,610.0 922.0,651.0 922.0,719.3 921.4,774.0 922.0,828.6 920.9,860.1 920.1,860.1" fill="#000" stroke="none"/>
<polyline points="920.1,610.0 922.0,651.0 922.0,719.3 921.4,774.0 922.0,828.6 920.9,860.1 920.1,860.1" fill="none"/>
<polygon points="945.2,610.0 945.2,610.0 946.2,692.0 946.0,774.0 946.5,860.1 945.2,860.1" fill="#000" stroke="none"/>
<polyline points="945.2,610.0 946.2,692.0 946.0,774.0 946.5,860.1 945.2,860.1" fill="none"/>
<polygon points="945.2,686.5 947.1,696.1 945.2,705.7" fill="#000"/>
<polygon points="945.2,817.7 947.1,836.8 945.2,856.0" fill="#000"/>
<polygon points="970.2,618.2 975.7,630.5 970.2,642.8" fill="#028040"/>
<polygon points="970.2,724.8 975.7,741.2 970.2,757.6" fill="#028040"/>
<polygon points="970.2,836.8 975.7,846.4 970.2,856.0" fill="#028040"/>
<polygon points="970.2,610.0 970.2,610.0 971.3,719.3 971.6,860.1 970.2,860.1" fill="#000" stroke="none"/>
<polyline points="970.2,610.0 971.3,719.3 971.6,860.1 970.2,860.1" fill="none"/>
<polygon points="995.3,741.2 998.0,757.6 995.3,774.0" fill="#028040"/>
<polygon points="995.3,834.1 998.0,845.0 995.3,856.0" fill="#028040"/>
<polygon points="995.3,610.0 995.3,610.0 997.5,664.7 996.9,746.6 997.5,828.6 996.7,860.1 995.3,860.1" fill="#000" stroke="none"/>
<polyline points="995.3,610.0 997.5,664.7 996.9,746.6 997.5,828.6 996.7,860.1 995.3,860.1" fill="none"/>
<polygon points="1020.4,631.9 1023.1,640.1 1020.4,648.3" fill="#028040"/>
<polygon points="1020.4,659.2 1023.1,667.4 1020.4,675.6" fill="#028040"/>
<polygon points="1020.4,763.0 1024.5,774.0 1020.4,784.9" fill="#028040"/>
<polygon points="1020.4,610.0 1020.4,610.0 1022.0,692.0 1021.5,860.1 1020.4,860.1" fill="#000" stroke="none"/>
<polyline points="1020.4,610.0 1022.0,692.0 1021.5,860.1 1020.4,860.1" fill="none"/>
<polygon points="1045.5,610.0 1045.5,610.0 1048.2,637.3 1047.6,719.3 1047.6,801.3 1047.1,856.0 1046.0,860.1 1045.5,860.1" fill="#000" stroke="none"/>
<polyline points="1045.5,610.0 1048.2,637.3 1047.6,719.3 1047.6,801.3 1047.1,856.0 1046.0,860.1 1045.5,860.1" fill="none"/>
<polygon points="1045.5,659.2 1048.2,667.4 1045.5,675.6" fill="#028040"/>
<polygon points="1070.5,686.5 1072.4,696.1 1070.5,705.7" fill="#000"/>
<polygon points="1070.5,713.9 1072.4,719.3 1070.5,724.8" fill="#000"/>
<polygon points="1070.5,610.0 1070.5,610.0 1071.4,746.6 1071.1,860.1 1070.5,860.1" fill="#000" stroke="none"/>
<polyline points="1070.5,610.0 1071.4,746.6 1071.1,860.1 1070.5,860.1" fill="none"/>
<polygon points="1095.6,368.2 1095.6,368.2 1097.5,376.4 1099.7,387.3 1097.5,398.3 1097.0,414.7 1097.5,442.0 1097.0,496.6 1097.5,551.3 1097.0,610.1 1095.6,610.1" fill="#000" stroke="none"/>
<polyline points="1095.6,368.2 1097.5,376.4 1099.7,387.3 1097.5,398.3 1097.0,414.7 1097.5,442.0 1097.0,496.6 1097.5,551.3 1097.0,610.1" fill="none"/>
<polygon points="1120.7,368.2 1120.7,368.2 1122.9,387.3 1122.1,442.0 1120.7,447.5 1120.7,447.5" fill="#000" stroke="none"/>
<polyline points="1120.7,368.2 1122.9,387.3 1122.1,442.0 1120.7,447.5" fill="none"/>
<polygon points="1120.7,469.3 1120.7,469.3 1124.8,474.8 1123.4,491.2 1126.2,499.4 1120.7,502.1 1120.7,502.1" fill="#049a1c" stroke="none"/>
<polyline points="1120.7,469.3 1124.8,474.8 1123.4,491.2 1126.2,499.4 1120.7,502.1" fill="none"/>
<polygon points="1120.7,586.8 1120.7,586.8 1124.8,606.0 1123.4,610.1 1120.7,610.1" fill="#049a1c" stroke="none"/>
<polyline points="1120.7,586.8 1124.8,606.0 1123.4,610.1" fill="none"/>
<polygon points="1145.8,368.2 1145.8,368.2 1147.4,387.3 1146.9,442.0 1147.4,483.0 1145.8,496.6 1146.6,551.3 1146.0,610.1 1145.8,610.1" fill="#000" stroke="none"/>
<polyline points="1145.8,368.2 1147.4,387.3 1146.9,442.0 1147.4,483.0 1145.8,496.6 1146.6,551.3 1146.0,610.1" fill="none"/>
<polyline points="1170.8,367.7 1211.8,367.7" fill="none"/>
<polygon points="1170.8,368.2 1170.8,368.2 1183.1,369.6 1173.6,372.3 1187.2,376.4 1173.6,380.5 1172.2,384.6 1203.6,392.8 1174.9,402.4 1188.6,409.2 1179.0,414.7 1180.4,421.5 1174.9,427.0 1170.8,431.1 1177.7,442.0 1172.2,447.5 1176.3,454.3 1172.2,459.8 1176.3,465.2 1172.2,470.7 1173.6,477.5 1184.5,483.0 1172.2,487.1 1184.5,492.5 1173.6,496.6 1172.2,503.5 1176.3,518.5 1177.7,540.4 1173.6,573.2 1172.2,592.3 1177.7,606.0 1178.2,610.1 1170.8,610.1" fill="#028040" stroke="none"/>
<polyline points="1170.8,368.2 1183.1,369.6 1173.6,372.3 1187.2,376.4 1173.6,380.5 1172.2,384.6 1203.6,392.8 1174.9,402.4 1188.6,409.2 1179.0,414.7 1180.4,421.5 1174.9,427.0 1170.8,431.1 1177.7,442.0 1172.2,447.5 1176.3,454.3 1172.2,459.8 1176.3,465.2 1172.2,470.7 1173.6,477.5 1184.5,483.0 1172.2,487.1 1184.5,492.5 1173.6,496.6 1172.2,503.5 1176.3,518.5 1177.7,540.4 1173.6,573.2 1172.2,592.3 1177.7,606.0 1178.2,610.1" fill="none"/>
<polygon points="1230.5,370.9 1230.5,370.9 1233.2,370.9 1231.9,387.3 1234.6,395.5 1233.2,414.7 1236.0,425.6 1231.9,431.1 1236.0,447.5 1233.2,455.7 1236.0,463.9 1231.9,477.5 1234.6,483.0 1231.9,488.5 1236.0,496.6 1231.9,502.1 1233.2,537.6 1234.6,578.6 1236.0,610.1 1230.5,610.1" fill="#028040" stroke="none"/>
<polyline points="1230.5,370.9 1233.2,370.9 1231.9,387.3 1234.6,395.5 1233.2,414.7 1236.0,425.6 1231.9,431.1 1236.0,447.5 1233.2,455.7 1236.0,463.9 1231.9,477.5 1234.6,483.0 1231.9,488.5 1236.0,496.6 1231.9,502.1 1233.2,537.6 1234.6,578.6 1236.0,610.1" fill="none"/>
<polygon points="1095.6,610.0 1095.6,610.0 1097.5,692.0 1097.0,774.0 1097.5,860.1 1095.6,860.1" fill="#000" stroke="none"/>
<polyline points="1095.6,610.0 1097.5,692.0 1097.0,774.0 1097.5,860.1 1095.6,860.1" fill="none"/>
<polygon points="1120.7,610.0 1123.4,610.0 1127.5,619.6 1123.4,631.9 1128.3,644.2 1123.4,653.7 1124.8,692.0 1128.3,722.1 1123.4,733.0 1126.2,760.3 1123.4,774.0 1128.3,784.9 1123.4,817.7 1125.6,845.0 1128.3,860.1 1120.7,860.1" fill="#049a1c" stroke="none"/>
<polyline points="1123.4,610.0 1127.5,619.6 1123.4,631.9 1128.3,644.2 1123.4,653.7 1124.8,692.0 1128.3,722.1 1123.4,733.0 1126.2,760.3 1123.4,774.0 1128.3,784.9 1123.4,817.7 1125.6,845.0 1128.3,860.1 1120.7,860.1" fill="none"/>
<polygon points="1145.8,610.0 1145.8,610.0 1146.9,692.0 1147.4,774.0 1146.6,860.1 1145.8,860.1" fill="#000" stroke="none"/>
<polyline points="1145.8,610.0 1146.9,692.0 1147.4,774.0 1146.6,860.1 1145.8,860.1" fill="none"/>
<polygon points="1170.8,610.0 1177.7,610.0 1180.4,619.6 1174.9,631.9 1173.6,644.2 1183.1,656.5 1173.6,672.9 1187.2,683.8 1176.3,697.5 1192.7,709.8 1181.8,722.1 1181.8,735.7 1191.3,758.9 1181.8,774.0 1192.7,817.7 1181.8,845.0 1183.1,860.1 1170.8,860.1" fill="#028040" stroke="none"/>
<polyline points="1177.7,610.0 1180.4,619.6 1174.9,631.9 1173.6,644.2 1183.1,656.5 1173.6,672.9 1187.2,683.8 1176.3,697.5 1192.7,709.8 1181.8,722.1 1181.8,735.7 1191.3,758.9 1181.8,774.0 1192.7,817.7 1181.8,845.0 1183.1,860.1 1170.8,860.1" fill="none"/>
<polygon points="1256.6,373.7 1258.5,376.4 1256.6,379.1" fill="#000"/>
<polygon points="1280.8,370.9 1280.8,370.9 1284.9,370.9 1283.5,381.9 1284.9,392.8 1283.5,403.7 1284.9,414.7 1286.3,427.0 1282.2,431.1 1286.3,436.5 1282.7,442.0 1284.9,447.5 1283.5,461.1 1284.9,480.3 1286.3,485.7 1284.9,496.6 1286.3,502.1 1284.4,524.0 1284.9,551.3 1286.3,578.6 1284.9,606.0 1286.3,610.1 1280.8,610.1" fill="#028040" stroke="none"/>
<polyline points="1280.8,370.9 1284.9,370.9 1283.5,381.9 1284.9,392.8 1283.5,403.7 1284.9,414.7 1286.3,427.0 1282.2,431.1 1286.3,436.5 1282.7,442.0 1284.9,447.5 1283.5,461.1 1284.9,480.3 1286.3,485.7 1284.9,496.6 1286.3,502.1 1284.4,524.0 1284.9,551.3 1286.3,578.6 1284.9,606.0 1286.3,610.1" fill="none"/>
<polygon points="1306.8,369.6 1306.8,369.6 1314.2,369.6 1310.1,373.7 1308.7,379.1 1311.4,401.0 1310.1,409.2 1312.8,420.1 1311.4,425.6 1310.1,431.1 1312.8,436.5 1310.1,450.2 1311.4,455.7 1310.1,480.3 1311.4,496.6 1309.5,504.8 1311.4,529.4 1310.1,567.7 1312.8,578.6 1310.1,606.0 1311.4,610.1 1306.8,610.1" fill="#049a1c" stroke="none"/>
<polyline points="1306.8,369.6 1314.2,369.6 1310.1,373.7 1308.7,379.1 1311.4,401.0 1310.1,409.2 1312.8,420.1 1311.4,425.6 1310.1,431.1 1312.8,436.5 1310.1,450.2 1311.4,455.7 1310.1,480.3 1311.4,496.6 1309.5,504.8 1311.4,529.4 1310.1,567.7 1312.8,578.6 1310.1,606.0 1311.4,610.1" fill="none"/>
<polygon points="1343.3,376.4 1343.3,376.4 1346.0,379.1 1344.1,384.6 1343.3,384.6" fill="#028040" stroke="none"/>
<polyline points="1343.3,376.4 1346.0,379.1 1344.1,384.6" fill="none"/>
<polygon points="1343.3,387.3 1343.3,387.3 1344.7,442.0 1344.1,496.6 1344.7,551.3 1344.1,610.1 1343.3,610.1" fill="#000" stroke="none"/>
<polyline points="1343.3,387.3 1344.7,442.0 1344.1,496.6 1344.7,551.3 1344.1,610.1" fill="none"/>
<polygon points="1343.3,444.7 1346.0,447.5 1343.3,450.2" fill="#028040"/>
<polygon points="1230.5,610.0 1233.2,610.0 1234.6,620.9 1231.9,634.6 1238.7,644.2 1234.6,653.7 1233.2,670.1 1232.7,719.3 1230.5,735.7 1235.4,757.6 1233.2,774.0 1237.3,787.6 1234.6,817.7 1233.8,839.6 1230.5,845.0 1234.6,860.1 1230.5,860.1" fill="#028040" stroke="none"/>
<polyline points="1233.2,610.0 1234.6,620.9 1231.9,634.6 1238.7,644.2 1234.6,653.7 1233.2,670.1 1232.7,719.3 1230.5,735.7 1235.4,757.6 1233.2,774.0 1237.3,787.6 1234.6,817.7 1233.8,839.6 1230.5,845.0 1234.6,860.1 1230.5,860.1" fill="none"/>
<polygon points="1256.6,664.7 1258.5,672.9 1256.6,681.1" fill="#000"/>
<polygon points="1256.6,713.9 1258.5,720.7 1256.6,727.5" fill="#000"/>
<polygon points="1280.8,610.0 1283.5,610.0 1286.3,620.9 1282.2,634.6 1289.0,644.2 1284.9,653.7 1286.3,675.6 1289.0,683.8 1283.5,697.5 1287.1,719.3 1282.7,730.3 1280.8,735.7 1284.9,757.6 1283.5,784.9 1286.3,801.3 1287.6,823.2 1284.9,836.8 1280.8,845.0 1287.1,860.1 1280.8,860.1" fill="#028040" stroke="none"/>
<polyline points="1283.5,610.0 1286.3,620.9 1282.2,634.6 1289.0,644.2 1284.9,653.7 1286.3,675.6 1289.0,683.8 1283.5,697.5 1287.1,719.3 1282.7,730.3 1280.8,735.7 1284.9,757.6 1283.5,784.9 1286.3,801.3 1287.6,823.2 1284.9,836.8 1280.8,845.0 1287.1,860.1 1280.8,860.1" fill="none"/>
<polygon points="1306.8,610.0 1308.7,610.0 1311.4,640.1 1308.7,648.3 1310.1,664.7 1307.9,678.3 1307.9,692.0 1308.7,719.3 1310.1,735.7 1307.3,774.0 1310.1,790.4 1310.1,828.6 1308.7,856.0 1306.8,860.1 1306.8,860.1" fill="#049a1c" stroke="none"/>
<polyline points="1308.7,610.0 1311.4,640.1 1308.7,648.3 1310.1,664.7 1307.9,678.3 1307.9,692.0 1308.7,719.3 1310.1,735.7 1307.3,774.0 1310.1,790.4 1310.1,828.6 1308.7,856.0 1306.8,860.1 1306.8,860.1" fill="none"/>
<polygon points="1343.3,610.0 1343.3,610.0 1345.2,637.3 1344.7,730.3 1346.9,774.0 1345.2,828.6 1344.7,856.0 1343.3,860.1 1343.3,860.1" fill="#000" stroke="none"/>
<polyline points="1343.3,610.0 1345.2,637.3 1344.7,730.3 1346.9,774.0 1345.2,828.6 1344.7,856.0 1343.3,860.1 1343.3,860.1" fill="none"/>
<polygon points="1343.3,763.0 1343.3,763.0 1346.3,779.4 1344.7,806.8 1343.3,806.8 1343.3,806.8" fill="#028040" stroke="none"/>
<polyline points="1343.3,763.0 1346.3,779.4 1344.7,806.8 1343.3,806.8" fill="none"/>
<line x1="268.1" y1="367.4" x2="280.3" y2="367.4"/>
<line x1="268.1" y1="370.9" x2="280.3" y2="370.9"/>
<line x1="293.2" y1="367.4" x2="300.2" y2="367.4"/>
<line x1="293.2" y1="371.7" x2="300.2" y2="371.7"/>
<line x1="318.3" y1="367.4" x2="327.0" y2="367.4"/>
<line x1="343.3" y1="367.4" x2="356.3" y2="367.4"/>
<line x1="393.5" y1="371.0" x2="398.5" y2="371.0"/>
<line x1="468.7" y1="370.9" x2="480.2" y2="370.9"/>
<line x1="468.7" y1="372.4" x2="479.7" y2="372.4"/>
<line x1="644.2" y1="370.9" x2="655.7" y2="370.9"/>
<polygon points="83.2,368.2 144.0,368.2 124.9,370.9 130.4,372.8 123.6,375.0 145.4,380.5 123.6,384.5 112.7,392.7 130.4,402.3 123.6,407.7 123.6,417.3 126.3,421.4 123.6,426.8 129.0,431.4 135.8,441.8 122.2,448.6 138.6,452.7 130.4,456.8 134.5,467.7 115.4,471.8 115.4,480.0 123.6,488.2 115.4,490.9 115.4,499.1 126.3,502.4 130.4,504.5 133.1,529.1 124.9,540.0 122.2,564.5 137.2,578.2 122.2,594.5 123.6,605.4 122.4,592.9 123.8,607.1 113.9,619.9 127.5,631.8 85.5,644.0 88.3,645.4 105.3,658.2 112.4,672.4 106.8,685.2 105.3,696.5 106.8,709.3 103.1,722.1 114.4,734.9 106.8,759.0 108.2,774.6 104.8,786.0 105.9,804.4 107.6,821.5 109.6,832.8 116.1,844.7 99.7,859.8 83.2,859.8" fill="#80ff80" stroke-width="2.5"/>
</g>
<g stroke="#000" stroke-width="2.6" fill="none" stroke-linejoin="round">
<polyline points="1411.9,366.9 1403.7,367.7 1395.5,368.6 1402.3,369.7 1398.2,371.3 1395.5,372.4 1381.8,375.9 1377.7,380.0 1379.1,393.7 1381.8,404.6 1388.7,407.3 1383.2,412.8 1395.5,426.4 1402.3,440.1 1415.9,453.7 1403.7,456.4 1424.1,461.9 1425.5,467.4 1409.1,472.8 1431.0,483.7 1447.3,491.9 1415.9,497.9 1409.1,502.8 1377.7,526.0 1384.6,538.3 1385.9,562.9 1385.9,573.8 1388.7,579.3 1385.9,590.2 1387.3,599.7 1386.9,629.8 1396.9,655.3 1413.9,668.0 1391.2,680.8 1398.3,693.6 1412.5,706.3 1411.0,717.7 1386.9,731.0 1401.1,755.9 1396.9,778.6 1392.6,811.2 1396.9,826.8 1384.1,841.0 1396.9,855.2" fill="none"/>
<polyline points="1454.2,369.1 1452.8,370.5 1469.2,378.7 1470.5,390.9 1477.4,399.1 1461.0,405.9 1452.8,414.1 1454.2,423.7 1456.9,429.1 1454.2,431.9 1459.6,437.3 1454.2,442.8 1461.0,448.3 1455.5,453.7 1458.3,459.2 1455.5,464.6 1459.6,470.1 1455.5,475.5 1459.6,481.0 1456.9,486.5 1459.6,491.9 1455.5,498.7 1459.6,502.8 1454.2,527.4 1456.9,562.9 1462.3,579.3 1455.5,595.6 1452.8,606.6 1452.1,605.7 1459.2,631.2 1484.8,644.8 1466.3,658.1 1459.2,669.5 1459.2,682.2 1455.8,696.4 1459.2,707.7 1457.8,721.9 1462.1,736.1 1457.8,758.8 1455.0,781.5 1453.6,818.3 1448.5,831.1 1459.2,846.7 1462.1,859.4" fill="none"/>
<polyline points="1491.0,366.4 1454.2,369.1" fill="none" stroke-width="3.6"/>
<polyline points="1548.3,369.1 1523.8,371.3 1522.4,374.0 1534.7,382.8 1541.5,388.2 1534.7,393.7 1542.9,400.5 1523.8,411.4 1515.6,422.3 1530.6,429.1 1538.8,431.9 1519.7,440.1 1523.8,448.3 1519.7,457.8 1521.0,467.4 1538.8,474.2 1526.5,481.0 1530.6,486.5 1527.8,491.9 1531.9,496.0 1522.4,498.7 1530.6,502.8 1530.6,527.4 1527.8,541.0 1529.2,568.3 1534.7,579.3 1525.1,606.6 1524.4,607.1 1538.6,631.2 1559.9,644.8 1541.5,656.7 1533.0,669.5 1534.4,683.6 1529.5,696.4 1528.7,721.9 1544.3,734.7 1538.6,758.8 1525.9,774.4 1521.6,795.6 1514.5,815.5 1506.0,829.7 1541.5,843.8 1541.5,859.4" fill="none"/>
</g>
<g stroke="#000" stroke-width="2.3" fill="none" stroke-linecap="butt">
<line x1="83.2" y1="351.7" x2="83.2" y2="873.3" stroke-width="2.4"/>
<polyline points="83.2,361.8 156.0,361.8 156.0,365.6" fill="none"/>
<line x1="89.3" y1="361.8" x2="89.3" y2="365.6"/>
<line x1="95.3" y1="361.8" x2="95.3" y2="365.6"/>
<line x1="101.4" y1="361.8" x2="101.4" y2="365.6"/>
<line x1="107.5" y1="361.8" x2="107.5" y2="365.6"/>
<line x1="113.6" y1="361.8" x2="113.6" y2="365.6"/>
<line x1="119.6" y1="361.8" x2="119.6" y2="365.6"/>
<line x1="125.7" y1="361.8" x2="125.7" y2="365.6"/>
<line x1="131.8" y1="361.8" x2="131.8" y2="365.6"/>
<line x1="137.8" y1="361.8" x2="137.8" y2="365.6"/>
<line x1="143.9" y1="361.8" x2="143.9" y2="365.6"/>
<line x1="150.0" y1="361.8" x2="150.0" y2="365.6"/>
<polyline points="83.2,863.7 156.0,863.7 156.0,870.5" fill="none"/>
<line x1="89.3" y1="863.7" x2="89.3" y2="867.5"/>
<line x1="95.3" y1="863.7" x2="95.3" y2="870.5"/>
<line x1="101.4" y1="863.7" x2="101.4" y2="867.5"/>
<line x1="107.5" y1="863.7" x2="107.5" y2="870.5"/>
<line x1="113.6" y1="863.7" x2="113.6" y2="867.5"/>
<line x1="119.6" y1="863.7" x2="119.6" y2="870.5"/>
<line x1="125.7" y1="863.7" x2="125.7" y2="867.5"/>
<line x1="131.8" y1="863.7" x2="131.8" y2="870.5"/>
<line x1="137.8" y1="863.7" x2="137.8" y2="867.5"/>
<line x1="143.9" y1="863.7" x2="143.9" y2="870.5"/>
<line x1="150.0" y1="863.7" x2="150.0" y2="867.5"/>
<line x1="167.8" y1="351.7" x2="167.8" y2="873.3" stroke-width="2.4"/>
<polyline points="167.8,361.8 179.8,361.8 179.8,365.6" fill="none"/>
<line x1="173.5" y1="361.8" x2="173.5" y2="365.6"/>
<polyline points="167.8,863.7 179.8,863.7 179.8,870.5" fill="none"/>
<line x1="173.5" y1="863.7" x2="173.5" y2="867.5"/>
<line x1="192.9" y1="351.7" x2="192.9" y2="873.3" stroke-width="2.4"/>
<polyline points="192.9,361.8 204.9,361.8 204.9,365.6" fill="none"/>
<line x1="198.6" y1="361.8" x2="198.6" y2="365.6"/>
<polyline points="192.9,863.7 204.9,863.7 204.9,870.5" fill="none"/>
<line x1="198.6" y1="863.7" x2="198.6" y2="867.5"/>
<line x1="218.0" y1="351.7" x2="218.0" y2="873.3" stroke-width="2.4"/>
<polyline points="218.0,361.8 230.0,361.8 230.0,365.6" fill="none"/>
<line x1="223.7" y1="361.8" x2="223.7" y2="365.6"/>
<polyline points="218.0,863.7 230.0,863.7 230.0,870.5" fill="none"/>
<line x1="223.7" y1="863.7" x2="223.7" y2="867.5"/>
<line x1="243.0" y1="351.7" x2="243.0" y2="873.3" stroke-width="2.4"/>
<polyline points="243.0,361.8 255.0,361.8 255.0,365.6" fill="none"/>
<line x1="248.7" y1="361.8" x2="248.7" y2="365.6"/>
<polyline points="243.0,863.7 255.0,863.7 255.0,870.5" fill="none"/>
<line x1="248.7" y1="863.7" x2="248.7" y2="867.5"/>
<line x1="268.1" y1="351.7" x2="268.1" y2="873.3" stroke-width="2.4"/>
<polyline points="268.1,361.8 280.1,361.8 280.1,365.6" fill="none"/>
<line x1="273.8" y1="361.8" x2="273.8" y2="365.6"/>
<polyline points="268.1,863.7 280.1,863.7 280.1,870.5" fill="none"/>
<line x1="273.8" y1="863.7" x2="273.8" y2="867.5"/>
<line x1="293.2" y1="351.7" x2="293.2" y2="873.3" stroke-width="2.4"/>
<polyline points="293.2,361.8 305.2,361.8 305.2,365.6" fill="none"/>
<line x1="298.9" y1="361.8" x2="298.9" y2="365.6"/>
<polyline points="293.2,863.7 305.2,863.7 305.2,870.5" fill="none"/>
<line x1="298.9" y1="863.7" x2="298.9" y2="867.5"/>
<line x1="318.3" y1="351.7" x2="318.3" y2="873.3" stroke-width="2.4"/>
<polyline points="318.3,361.8 330.3,361.8 330.3,365.6" fill="none"/>
<line x1="324.0" y1="361.8" x2="324.0" y2="365.6"/>
<polyline points="318.3,863.7 330.3,863.7 330.3,870.5" fill="none"/>
<line x1="324.0" y1="863.7" x2="324.0" y2="867.5"/>
<line x1="343.3" y1="351.7" x2="343.3" y2="873.3" stroke-width="2.4"/>
<polyline points="343.3,361.8 355.3,361.8 355.3,365.6" fill="none"/>
<line x1="349.0" y1="361.8" x2="349.0" y2="365.6"/>
<polyline points="343.3,863.7 355.3,863.7 355.3,870.5" fill="none"/>
<line x1="349.0" y1="863.7" x2="349.0" y2="867.5"/>
<line x1="368.4" y1="351.7" x2="368.4" y2="873.3" stroke-width="2.4"/>
<polyline points="368.4,361.8 380.4,361.8 380.4,365.6" fill="none"/>
<line x1="374.1" y1="361.8" x2="374.1" y2="365.6"/>
<polyline points="368.4,863.7 380.4,863.7 380.4,870.5" fill="none"/>
<line x1="374.1" y1="863.7" x2="374.1" y2="867.5"/>
<line x1="393.5" y1="351.7" x2="393.5" y2="873.3" stroke-width="2.4"/>
<polyline points="393.5,361.8 405.5,361.8 405.5,365.6" fill="none"/>
<line x1="399.2" y1="361.8" x2="399.2" y2="365.6"/>
<polyline points="393.5,863.7 405.5,863.7 405.5,870.5" fill="none"/>
<line x1="399.2" y1="863.7" x2="399.2" y2="867.5"/>
<line x1="418.6" y1="351.7" x2="418.6" y2="873.3" stroke-width="2.4"/>
<polyline points="418.6,361.8 430.6,361.8 430.6,365.6" fill="none"/>
<line x1="424.3" y1="361.8" x2="424.3" y2="365.6"/>
<polyline points="418.6,863.7 430.6,863.7 430.6,870.5" fill="none"/>
<line x1="424.3" y1="863.7" x2="424.3" y2="867.5"/>
<line x1="443.6" y1="351.7" x2="443.6" y2="873.3" stroke-width="2.4"/>
<polyline points="443.6,361.8 455.6,361.8 455.6,365.6" fill="none"/>
<line x1="449.3" y1="361.8" x2="449.3" y2="365.6"/>
<polyline points="443.6,863.7 455.6,863.7 455.6,870.5" fill="none"/>
<line x1="449.3" y1="863.7" x2="449.3" y2="867.5"/>
<line x1="468.7" y1="351.7" x2="468.7" y2="873.3" stroke-width="2.4"/>
<polyline points="468.7,361.8 480.7,361.8 480.7,365.6" fill="none"/>
<line x1="474.4" y1="361.8" x2="474.4" y2="365.6"/>
<polyline points="468.7,863.7 480.7,863.7 480.7,870.5" fill="none"/>
<line x1="474.4" y1="863.7" x2="474.4" y2="867.5"/>
<line x1="493.8" y1="351.7" x2="493.8" y2="873.3" stroke-width="2.4"/>
<polyline points="493.8,361.8 505.8,361.8 505.8,365.6" fill="none"/>
<line x1="499.5" y1="361.8" x2="499.5" y2="365.6"/>
<polyline points="493.8,863.7 505.8,863.7 505.8,870.5" fill="none"/>
<line x1="499.5" y1="863.7" x2="499.5" y2="867.5"/>
<line x1="518.9" y1="351.7" x2="518.9" y2="873.3" stroke-width="2.4"/>
<polyline points="518.9,361.8 530.9,361.8 530.9,365.6" fill="none"/>
<line x1="524.6" y1="361.8" x2="524.6" y2="365.6"/>
<polyline points="518.9,863.7 530.9,863.7 530.9,870.5" fill="none"/>
<line x1="524.6" y1="863.7" x2="524.6" y2="867.5"/>
<line x1="543.9" y1="351.7" x2="543.9" y2="873.3" stroke-width="2.4"/>
<polyline points="543.9,361.8 555.9,361.8 555.9,365.6" fill="none"/>
<line x1="549.6" y1="361.8" x2="549.6" y2="365.6"/>
<polyline points="543.9,863.7 555.9,863.7 555.9,870.5" fill="none"/>
<line x1="549.6" y1="863.7" x2="549.6" y2="867.5"/>
<line x1="569.0" y1="351.7" x2="569.0" y2="873.3" stroke-width="2.4"/>
<polyline points="569.0,361.8 581.0,361.8 581.0,365.6" fill="none"/>
<line x1="574.7" y1="361.8" x2="574.7" y2="365.6"/>
<polyline points="569.0,863.7 581.0,863.7 581.0,870.5" fill="none"/>
<line x1="574.7" y1="863.7" x2="574.7" y2="867.5"/>
<line x1="594.1" y1="351.7" x2="594.1" y2="873.3" stroke-width="2.4"/>
<polyline points="594.1,361.8 606.1,361.8 606.1,365.6" fill="none"/>
<line x1="599.8" y1="361.8" x2="599.8" y2="365.6"/>
<polyline points="594.1,863.7 606.1,863.7 606.1,870.5" fill="none"/>
<line x1="599.8" y1="863.7" x2="599.8" y2="867.5"/>
<line x1="619.2" y1="351.7" x2="619.2" y2="873.3" stroke-width="2.4"/>
<polyline points="619.2,361.8 631.2,361.8 631.2,365.6" fill="none"/>
<line x1="624.9" y1="361.8" x2="624.9" y2="365.6"/>
<polyline points="619.2,863.7 631.2,863.7 631.2,870.5" fill="none"/>
<line x1="624.9" y1="863.7" x2="624.9" y2="867.5"/>
<line x1="644.2" y1="351.7" x2="644.2" y2="873.3" stroke-width="2.4"/>
<polyline points="644.2,361.8 656.2,361.8 656.2,365.6" fill="none"/>
<line x1="649.9" y1="361.8" x2="649.9" y2="365.6"/>
<polyline points="644.2,863.7 656.2,863.7 656.2,870.5" fill="none"/>
<line x1="649.9" y1="863.7" x2="649.9" y2="867.5"/>
<line x1="669.3" y1="351.7" x2="669.3" y2="873.3" stroke-width="2.4"/>
<line x1="669.3" y1="361.8" x2="681.3" y2="361.8"/>
<polyline points="669.3,863.7 681.3,863.7 681.3,870.5" fill="none"/>
<line x1="694.4" y1="351.7" x2="694.4" y2="873.3" stroke-width="2.4"/>
<line x1="694.4" y1="361.8" x2="706.4" y2="361.8"/>
<polyline points="694.4,863.7 706.4,863.7 706.4,870.5" fill="none"/>
<line x1="719.5" y1="351.7" x2="719.5" y2="873.3" stroke-width="2.4"/>
<line x1="719.5" y1="361.8" x2="731.5" y2="361.8"/>
<polyline points="719.5,863.7 731.5,863.7 731.5,870.5" fill="none"/>
<line x1="744.5" y1="351.7" x2="744.5" y2="873.3" stroke-width="2.4"/>
<line x1="744.5" y1="361.8" x2="756.5" y2="361.8"/>
<polyline points="744.5,863.7 756.5,863.7 756.5,870.5" fill="none"/>
<line x1="769.6" y1="351.7" x2="769.6" y2="873.3" stroke-width="2.4"/>
<polyline points="769.6,361.8 781.6,361.8 781.6,365.6" fill="none"/>
<line x1="775.3" y1="361.8" x2="775.3" y2="365.6"/>
<polyline points="769.6,863.7 781.6,863.7 781.6,870.5" fill="none"/>
<line x1="775.3" y1="863.7" x2="775.3" y2="867.5"/>
<line x1="794.7" y1="351.7" x2="794.7" y2="873.3" stroke-width="2.4"/>
<polyline points="794.7,361.8 806.7,361.8 806.7,365.6" fill="none"/>
<line x1="800.4" y1="361.8" x2="800.4" y2="365.6"/>
<polyline points="794.7,863.7 806.7,863.7 806.7,870.5" fill="none"/>
<line x1="800.4" y1="863.7" x2="800.4" y2="867.5"/>
<line x1="819.8" y1="351.7" x2="819.8" y2="873.3" stroke-width="2.4"/>
<polyline points="819.8,361.8 831.8,361.8 831.8,365.6" fill="none"/>
<line x1="825.5" y1="361.8" x2="825.5" y2="365.6"/>
<polyline points="819.8,863.7 831.8,863.7 831.8,870.5" fill="none"/>
<line x1="825.5" y1="863.7" x2="825.5" y2="867.5"/>
<line x1="844.9" y1="351.7" x2="844.9" y2="873.3" stroke-width="2.4"/>
<polyline points="844.9,361.8 856.9,361.8 856.9,365.6" fill="none"/>
<line x1="850.6" y1="361.8" x2="850.6" y2="365.6"/>
<polyline points="844.9,863.7 856.9,863.7 856.9,870.5" fill="none"/>
<line x1="850.6" y1="863.7" x2="850.6" y2="867.5"/>
<line x1="869.9" y1="351.7" x2="869.9" y2="873.3" stroke-width="2.4"/>
<polyline points="869.9,361.8 881.9,361.8 881.9,365.6" fill="none"/>
<line x1="875.6" y1="361.8" x2="875.6" y2="365.6"/>
<polyline points="869.9,863.7 881.9,863.7 881.9,870.5" fill="none"/>
<line x1="875.6" y1="863.7" x2="875.6" y2="867.5"/>
<line x1="895.0" y1="351.7" x2="895.0" y2="873.3" stroke-width="2.4"/>
<polyline points="895.0,361.8 907.0,361.8 907.0,365.6" fill="none"/>
<line x1="900.7" y1="361.8" x2="900.7" y2="365.6"/>
<polyline points="895.0,863.7 907.0,863.7 907.0,870.5" fill="none"/>
<line x1="900.7" y1="863.7" x2="900.7" y2="867.5"/>
<line x1="920.1" y1="351.7" x2="920.1" y2="873.3" stroke-width="2.4"/>
<polyline points="920.1,361.8 932.1,361.8 932.1,365.6" fill="none"/>
<line x1="925.8" y1="361.8" x2="925.8" y2="365.6"/>
<polyline points="920.1,863.7 932.1,863.7 932.1,870.5" fill="none"/>
<line x1="925.8" y1="863.7" x2="925.8" y2="867.5"/>
<line x1="945.2" y1="351.7" x2="945.2" y2="873.3" stroke-width="2.4"/>
<polyline points="945.2,361.8 957.2,361.8 957.2,365.6" fill="none"/>
<line x1="950.9" y1="361.8" x2="950.9" y2="365.6"/>
<polyline points="945.2,863.7 957.2,863.7 957.2,870.5" fill="none"/>
<line x1="950.9" y1="863.7" x2="950.9" y2="867.5"/>
<line x1="970.2" y1="351.7" x2="970.2" y2="873.3" stroke-width="2.4"/>
<polyline points="970.2,361.8 982.2,361.8 982.2,365.6" fill="none"/>
<line x1="975.9" y1="361.8" x2="975.9" y2="365.6"/>
<polyline points="970.2,863.7 982.2,863.7 982.2,870.5" fill="none"/>
<line x1="975.9" y1="863.7" x2="975.9" y2="867.5"/>
<line x1="995.3" y1="351.7" x2="995.3" y2="873.3" stroke-width="2.4"/>
<polyline points="995.3,361.8 1007.3,361.8 1007.3,365.6" fill="none"/>
<line x1="1001.0" y1="361.8" x2="1001.0" y2="365.6"/>
<polyline points="995.3,863.7 1007.3,863.7 1007.3,870.5" fill="none"/>
<line x1="1001.0" y1="863.7" x2="1001.0" y2="867.5"/>
<line x1="1020.4" y1="351.7" x2="1020.4" y2="873.3" stroke-width="2.4"/>
<polyline points="1020.4,361.8 1032.4,361.8 1032.4,365.6" fill="none"/>
<line x1="1026.1" y1="361.8" x2="1026.1" y2="365.6"/>
<polyline points="1020.4,863.7 1032.4,863.7 1032.4,870.5" fill="none"/>
<line x1="1026.1" y1="863.7" x2="1026.1" y2="867.5"/>
<line x1="1045.5" y1="351.7" x2="1045.5" y2="873.3" stroke-width="2.4"/>
<polyline points="1045.5,361.8 1057.5,361.8 1057.5,365.6" fill="none"/>
<line x1="1051.2" y1="361.8" x2="1051.2" y2="365.6"/>
<polyline points="1045.5,863.7 1057.5,863.7 1057.5,870.5" fill="none"/>
<line x1="1051.2" y1="863.7" x2="1051.2" y2="867.5"/>
<line x1="1070.5" y1="351.7" x2="1070.5" y2="873.3" stroke-width="2.4"/>
<polyline points="1070.5,361.8 1082.5,361.8 1082.5,365.6" fill="none"/>
<line x1="1076.2" y1="361.8" x2="1076.2" y2="365.6"/>
<polyline points="1070.5,863.7 1082.5,863.7 1082.5,870.5" fill="none"/>
<line x1="1076.2" y1="863.7" x2="1076.2" y2="867.5"/>
<line x1="1095.6" y1="351.7" x2="1095.6" y2="873.3" stroke-width="2.4"/>
<polyline points="1095.6,361.8 1107.6,361.8 1107.6,365.6" fill="none"/>
<line x1="1101.3" y1="361.8" x2="1101.3" y2="365.6"/>
<polyline points="1095.6,863.7 1107.6,863.7 1107.6,870.5" fill="none"/>
<line x1="1101.3" y1="863.7" x2="1101.3" y2="867.5"/>
<line x1="1120.7" y1="351.7" x2="1120.7" y2="873.3" stroke-width="2.4"/>
<polyline points="1120.7,361.8 1132.7,361.8 1132.7,365.6" fill="none"/>
<line x1="1126.4" y1="361.8" x2="1126.4" y2="365.6"/>
<polyline points="1120.7,863.7 1132.7,863.7 1132.7,870.5" fill="none"/>
<line x1="1126.4" y1="863.7" x2="1126.4" y2="867.5"/>
<line x1="1145.8" y1="351.7" x2="1145.8" y2="873.3" stroke-width="2.4"/>
<polyline points="1145.8,361.8 1157.8,361.8 1157.8,365.6" fill="none"/>
<line x1="1151.5" y1="361.8" x2="1151.5" y2="365.6"/>
<polyline points="1145.8,863.7 1157.8,863.7 1157.8,870.5" fill="none"/>
<line x1="1151.5" y1="863.7" x2="1151.5" y2="867.5"/>
<line x1="1170.8" y1="351.7" x2="1170.8" y2="873.3" stroke-width="2.4"/>
<polyline points="1170.8,361.8 1217.2,361.8 1217.2,365.6" fill="none"/>
<line x1="1176.6" y1="361.8" x2="1176.6" y2="365.6"/>
<line x1="1182.4" y1="361.8" x2="1182.4" y2="365.6"/>
<line x1="1188.2" y1="361.8" x2="1188.2" y2="365.6"/>
<line x1="1194.0" y1="361.8" x2="1194.0" y2="365.6"/>
<line x1="1199.8" y1="361.8" x2="1199.8" y2="365.6"/>
<line x1="1205.6" y1="361.8" x2="1205.6" y2="365.6"/>
<line x1="1211.4" y1="361.8" x2="1211.4" y2="365.6"/>
<polyline points="1170.8,863.7 1217.2,863.7 1217.2,870.5" fill="none"/>
<line x1="1176.6" y1="863.7" x2="1176.6" y2="867.5"/>
<line x1="1182.4" y1="863.7" x2="1182.4" y2="870.5"/>
<line x1="1188.2" y1="863.7" x2="1188.2" y2="867.5"/>
<line x1="1194.0" y1="863.7" x2="1194.0" y2="870.5"/>
<line x1="1199.8" y1="863.7" x2="1199.8" y2="867.5"/>
<line x1="1205.6" y1="863.7" x2="1205.6" y2="870.5"/>
<line x1="1211.4" y1="863.7" x2="1211.4" y2="867.5"/>
<line x1="1230.5" y1="351.7" x2="1230.5" y2="873.3" stroke-width="2.4"/>
<polyline points="1230.5,361.8 1242.5,361.8 1242.5,365.6" fill="none"/>
<line x1="1236.2" y1="361.8" x2="1236.2" y2="365.6"/>
<polyline points="1230.5,863.7 1242.5,863.7 1242.5,870.5" fill="none"/>
<line x1="1236.2" y1="863.7" x2="1236.2" y2="867.5"/>
<line x1="1256.6" y1="351.7" x2="1256.6" y2="873.3" stroke-width="2.4"/>
<polyline points="1256.6,361.8 1268.6,361.8 1268.6,365.6" fill="none"/>
<line x1="1262.3" y1="361.8" x2="1262.3" y2="365.6"/>
<polyline points="1256.6,863.7 1268.6,863.7 1268.6,870.5" fill="none"/>
<line x1="1262.3" y1="863.7" x2="1262.3" y2="867.5"/>
<line x1="1280.8" y1="351.7" x2="1280.8" y2="873.3" stroke-width="2.4"/>
<polyline points="1280.8,361.8 1292.8,361.8 1292.8,365.6" fill="none"/>
<line x1="1286.5" y1="361.8" x2="1286.5" y2="365.6"/>
<polyline points="1280.8,863.7 1292.8,863.7 1292.8,870.5" fill="none"/>
<line x1="1286.5" y1="863.7" x2="1286.5" y2="867.5"/>
<line x1="1306.8" y1="351.7" x2="1306.8" y2="873.3" stroke-width="2.4"/>
<polyline points="1306.8,361.8 1330.8,361.8 1330.8,365.6" fill="none"/>
<line x1="1312.8" y1="361.8" x2="1312.8" y2="365.6"/>
<line x1="1318.8" y1="361.8" x2="1318.8" y2="365.6"/>
<line x1="1324.8" y1="361.8" x2="1324.8" y2="365.6"/>
<polyline points="1306.8,863.7 1330.8,863.7 1330.8,870.5" fill="none"/>
<line x1="1312.8" y1="863.7" x2="1312.8" y2="867.5"/>
<line x1="1318.8" y1="863.7" x2="1318.8" y2="870.5"/>
<line x1="1324.8" y1="863.7" x2="1324.8" y2="867.5"/>
<line x1="1343.3" y1="351.7" x2="1343.3" y2="873.3" stroke-width="2.4"/>
<polyline points="1343.3,361.8 1355.3,361.8 1355.3,365.6" fill="none"/>
<line x1="1349.0" y1="361.8" x2="1349.0" y2="365.6"/>
<polyline points="1343.3,863.7 1355.3,863.7 1355.3,870.5" fill="none"/>
<line x1="1349.0" y1="863.7" x2="1349.0" y2="867.5"/>
<line x1="1367.6" y1="351.7" x2="1367.6" y2="872.4" stroke-width="2.4"/>
</g>
<g stroke="#000" stroke-width="2.3" fill="none" stroke-linecap="square">
<line x1="1616.1" y1="363.4" x2="1703.9" y2="363.4"/>
<line x1="1616.1" y1="366.8" x2="1684.9" y2="366.8"/>
<line x1="1616.1" y1="369.9" x2="1666.4" y2="369.9"/>
<line x1="1616.1" y1="373.0" x2="1663.0" y2="373.0"/>
<line x1="1616.1" y1="375.9" x2="1686.5" y2="375.9"/>
<line x1="1686.9" y1="391.6" x2="1703.3" y2="391.6"/>
<line x1="1616.1" y1="382.2" x2="1649.7" y2="382.2"/>
<line x1="1616.1" y1="387.8" x2="1649.7" y2="387.8"/>
<line x1="1651.6" y1="394.8" x2="1673.7" y2="394.8"/>
<line x1="1637.1" y1="401.1" x2="1651.6" y2="401.1"/>
<line x1="1616.1" y1="398.5" x2="1636.5" y2="398.5"/>
<line x1="1623.9" y1="407.4" x2="1636.5" y2="407.4"/>
<line x1="1673.7" y1="407.4" x2="1686.9" y2="407.4"/>
<line x1="1616.1" y1="404.2" x2="1623.2" y2="404.2"/>
<line x1="1616.1" y1="408.6" x2="1623.2" y2="408.6"/>
<line x1="1616.1" y1="411.8" x2="1622.6" y2="411.8"/>
<line x1="1616.1" y1="416.8" x2="1622.6" y2="416.8"/>
<line x1="1616.1" y1="422.5" x2="1673.7" y2="422.5"/>
<line x1="1616.1" y1="428.8" x2="1710.9" y2="428.8"/>
<line x1="1616.1" y1="432.0" x2="1626.0" y2="432.0"/>
<line x1="1616.1" y1="437.9" x2="1626.0" y2="437.9"/>
<line x1="1616.1" y1="444.3" x2="1628.0" y2="444.3"/>
<line x1="1616.1" y1="446.3" x2="1628.9" y2="446.3"/>
<line x1="1616.1" y1="447.4" x2="1629.5" y2="447.4"/>
<line x1="1616.1" y1="453.7" x2="1631.1" y2="453.7"/>
<line x1="1616.1" y1="459.2" x2="1632.4" y2="459.2"/>
<line x1="1616.1" y1="461.7" x2="1632.4" y2="461.7"/>
<line x1="1616.1" y1="463.4" x2="1633.0" y2="463.4"/>
<line x1="1633.0" y1="460.3" x2="1692.7" y2="460.3"/>
<line x1="1706.5" y1="369.5" x2="1725.4" y2="369.5"/>
<line x1="1725.4" y1="435.1" x2="1736.1" y2="435.1"/>
<line x1="1703.3" y1="363.4" x2="1703.3" y2="391.6"/>
<line x1="1666.1" y1="369.9" x2="1666.1" y2="373.0"/>
<line x1="1685.7" y1="366.8" x2="1685.7" y2="375.9"/>
<line x1="1686.9" y1="372.7" x2="1686.9" y2="407.4"/>
<line x1="1649.7" y1="382.2" x2="1649.7" y2="387.8"/>
<line x1="1651.0" y1="385.3" x2="1651.0" y2="401.1"/>
<line x1="1636.5" y1="398.5" x2="1636.5" y2="407.4"/>
<line x1="1623.2" y1="404.2" x2="1623.2" y2="416.8"/>
<line x1="1673.7" y1="394.8" x2="1673.7" y2="422.5"/>
<line x1="1710.9" y1="428.8" x2="1710.9" y2="470.1"/>
<line x1="1626.0" y1="432.0" x2="1626.0" y2="437.9"/>
<line x1="1628.0" y1="434.9" x2="1628.0" y2="444.3"/>
<line x1="1629.5" y1="440.8" x2="1629.5" y2="447.4"/>
<line x1="1631.1" y1="445.8" x2="1631.1" y2="453.7"/>
<line x1="1632.4" y1="450.9" x2="1632.4" y2="463.4"/>
<line x1="1692.7" y1="460.3" x2="1692.7" y2="470.1"/>
<line x1="1725.4" y1="369.5" x2="1725.4" y2="470.1"/>
<line x1="1736.1" y1="435.1" x2="1736.1" y2="470.1"/>
<line x1="1616.1" y1="460.7" x2="1691.9" y2="460.7"/>
<line x1="1616.1" y1="462.7" x2="1632.5" y2="462.7"/>
<line x1="1616.1" y1="469.6" x2="1698.1" y2="469.6"/>
<line x1="1616.1" y1="475.7" x2="1648.2" y2="475.7"/>
<line x1="1648.2" y1="478.4" x2="1670.1" y2="478.4"/>
<line x1="1616.1" y1="480.5" x2="1646.2" y2="480.5"/>
<line x1="1616.1" y1="485.3" x2="1646.9" y2="485.3"/>
<line x1="1616.1" y1="487.3" x2="1644.8" y2="487.3"/>
<line x1="1616.1" y1="493.4" x2="1644.1" y2="493.4"/>
<line x1="1616.1" y1="500.3" x2="1670.1" y2="500.3"/>
<line x1="1670.1" y1="488.0" x2="1690.5" y2="488.0"/>
<line x1="1616.1" y1="525.5" x2="1694.0" y2="525.5"/>
<line x1="1616.1" y1="537.8" x2="1661.2" y2="537.8"/>
<line x1="1661.2" y1="556.2" x2="1668.7" y2="556.2"/>
<line x1="1694.0" y1="556.2" x2="1698.7" y2="556.2"/>
<line x1="1616.1" y1="562.4" x2="1659.1" y2="562.4"/>
<line x1="1616.1" y1="574.7" x2="1657.8" y2="574.7"/>
<line x1="1668.7" y1="587.0" x2="1694.0" y2="587.0"/>
<line x1="1616.1" y1="589.0" x2="1657.1" y2="589.0"/>
<line x1="1700.1" y1="571.9" x2="1711.0" y2="571.9"/>
<line x1="1711.7" y1="500.3" x2="1726.0" y2="500.3"/>
<line x1="1691.9" y1="460.0" x2="1691.9" y2="479.1"/>
<line x1="1698.1" y1="469.6" x2="1698.1" y2="589.7"/>
<line x1="1670.1" y1="478.4" x2="1670.1" y2="500.3"/>
<line x1="1690.5" y1="469.6" x2="1690.5" y2="488.0"/>
<line x1="1646.9" y1="475.7" x2="1646.9" y2="485.3"/>
<line x1="1644.8" y1="485.3" x2="1644.8" y2="493.4"/>
<line x1="1694.0" y1="525.5" x2="1694.0" y2="587.0"/>
<line x1="1660.5" y1="537.8" x2="1660.5" y2="577.4"/>
<line x1="1668.7" y1="556.2" x2="1668.7" y2="589.7"/>
<line x1="1711.0" y1="460.0" x2="1711.0" y2="571.9"/>
<line x1="1726.0" y1="460.0" x2="1726.0" y2="500.3"/>
<line x1="1736.3" y1="460.0" x2="1736.3" y2="590.0"/>
<line x1="1616.2" y1="589.6" x2="1657.1" y2="589.6"/>
<line x1="1616.2" y1="602.1" x2="1657.1" y2="602.1"/>
<line x1="1616.2" y1="614.6" x2="1668.1" y2="614.6"/>
<line x1="1668.8" y1="586.6" x2="1693.8" y2="586.6"/>
<line x1="1616.2" y1="627.1" x2="1699.7" y2="627.1"/>
<line x1="1716.6" y1="713.8" x2="1736.5" y2="713.8"/>
<line x1="1616.2" y1="639.6" x2="1677.6" y2="639.6"/>
<line x1="1616.2" y1="652.1" x2="1654.9" y2="652.1"/>
<line x1="1677.6" y1="652.1" x2="1716.6" y2="652.1"/>
<line x1="1654.9" y1="664.6" x2="1677.6" y2="664.6"/>
<line x1="1616.2" y1="667.5" x2="1654.1" y2="667.5"/>
<line x1="1616.2" y1="680.0" x2="1636.5" y2="680.0"/>
<line x1="1636.5" y1="688.8" x2="1654.1" y2="688.8"/>
<line x1="1616.2" y1="692.5" x2="1635.0" y2="692.5"/>
<line x1="1616.2" y1="705.0" x2="1631.3" y2="705.0"/>
<line x1="1631.3" y1="710.9" x2="1635.0" y2="710.9"/>
<line x1="1616.2" y1="717.5" x2="1631.3" y2="717.5"/>
<line x1="1657.8" y1="580.0" x2="1657.8" y2="594.0"/>
<line x1="1657.1" y1="589.6" x2="1657.1" y2="602.1"/>
<line x1="1668.1" y1="580.0" x2="1668.1" y2="614.6"/>
<line x1="1693.8" y1="580.0" x2="1693.8" y2="586.6"/>
<line x1="1699.7" y1="580.0" x2="1699.7" y2="627.1"/>
<line x1="1736.5" y1="580.0" x2="1736.5" y2="713.8"/>
<line x1="1677.6" y1="639.6" x2="1677.6" y2="664.6"/>
<line x1="1716.6" y1="652.1" x2="1716.6" y2="720.0"/>
<line x1="1654.1" y1="652.1" x2="1654.1" y2="688.8"/>
<line x1="1636.5" y1="680.0" x2="1636.5" y2="702.1"/>
<line x1="1631.3" y1="705.0" x2="1631.3" y2="717.5"/>
<line x1="1616.6" y1="705.7" x2="1630.8" y2="705.7"/>
<line x1="1616.6" y1="717.0" x2="1630.8" y2="717.0"/>
<line x1="1616.6" y1="729.3" x2="1715.0" y2="729.3"/>
<line x1="1716.9" y1="714.2" x2="1735.8" y2="714.2"/>
<line x1="1616.6" y1="754.8" x2="1639.3" y2="754.8"/>
<line x1="1616.6" y1="770.0" x2="1639.3" y2="770.0"/>
<line x1="1640.3" y1="782.3" x2="1680.9" y2="782.3"/>
<line x1="1621.3" y1="800.2" x2="1640.3" y2="800.2"/>
<line x1="1616.6" y1="782.3" x2="1622.3" y2="782.3"/>
<line x1="1616.6" y1="813.5" x2="1621.3" y2="813.5"/>
<line x1="1616.6" y1="824.8" x2="1619.5" y2="824.8"/>
<line x1="1680.9" y1="815.4" x2="1715.0" y2="815.4"/>
<line x1="1616.6" y1="840.9" x2="1680.0" y2="840.9"/>
<line x1="1616.6" y1="856.0" x2="1679.0" y2="856.0"/>
<line x1="1630.8" y1="705.7" x2="1630.8" y2="717.0"/>
<line x1="1634.6" y1="700.0" x2="1634.6" y2="710.4"/>
<line x1="1715.0" y1="700.0" x2="1715.0" y2="815.4"/>
<line x1="1735.8" y1="700.0" x2="1735.8" y2="714.2"/>
<line x1="1639.3" y1="754.8" x2="1639.3" y2="800.2"/>
<line x1="1680.9" y1="782.3" x2="1680.9" y2="847.5"/>
<line x1="1621.3" y1="782.3" x2="1621.3" y2="819.1"/>
<line x1="1679.0" y1="840.9" x2="1679.0" y2="856.0"/>
<line x1="1616.2" y1="356.3" x2="1616.2" y2="866.5" stroke-width="2.6"/>
<line x1="1616.2" y1="356.3" x2="1746.8" y2="356.3" stroke-width="2.6"/>
<polyline points="1746.8,356.3 1746.8,369.5 1742.3,369.5" fill="none"/>
<line x1="1642.2" y1="356.3" x2="1642.2" y2="360.7"/>
<line x1="1665.5" y1="356.3" x2="1665.5" y2="360.7"/>
<line x1="1690.1" y1="356.3" x2="1690.1" y2="360.7"/>
<line x1="1712.8" y1="356.3" x2="1712.8" y2="360.7"/>
<line x1="1736.1" y1="356.3" x2="1736.1" y2="360.7"/>
<line x1="1616.4" y1="859.8" x2="1736.7" y2="859.8" stroke-width="2.6"/>
<line x1="1642.2" y1="859.8" x2="1642.2" y2="866.4"/>
<line x1="1665.8" y1="859.8" x2="1665.8" y2="866.4"/>
<line x1="1690.4" y1="859.8" x2="1690.4" y2="866.4"/>
<line x1="1713.1" y1="859.8" x2="1713.1" y2="866.4"/>
<line x1="1735.8" y1="859.8" x2="1735.8" y2="866.4"/>
</g>
<g stroke="#000" stroke-width="2.6">
<line x1="83.2" y1="429.8" x2="1616.1" y2="429.8"/>
<line x1="83.2" y1="503.9" x2="1616.1" y2="503.9"/>
<line x1="83.2" y1="645.0" x2="1616.1" y2="645.0"/>
</g>
<text transform="translate(1551.9,405.8) scale(0.595,1)" font-size="31">Zone 4</text>
<text transform="translate(1549.9,476.8) scale(0.595,1)" font-size="31">Zone 3</text>
<text transform="translate(1548.0,588.0) scale(0.595,1)" font-size="31">Zone 2</text>
<text transform="translate(1555.0,739.1) scale(0.595,1)" font-size="31">Zone 1</text>
<g stroke="#000" stroke-width="2.4" fill="none">
<line x1="77.5" y1="373.3" x2="77.5" y2="864.3"/>
<line x1="74.6" y1="374.1" x2="77.5" y2="374.1"/>
<line x1="74.6" y1="430.2" x2="77.5" y2="430.2"/>
<line x1="74.6" y1="484.6" x2="77.5" y2="484.6"/>
<line x1="74.6" y1="538.9" x2="77.5" y2="538.9"/>
<line x1="74.6" y1="593.4" x2="77.5" y2="593.4"/>
<line x1="74.6" y1="647.5" x2="77.5" y2="647.5"/>
<line x1="74.6" y1="703.1" x2="77.5" y2="703.1"/>
<line x1="74.6" y1="757.0" x2="77.5" y2="757.0"/>
<line x1="74.6" y1="810.7" x2="77.5" y2="810.7"/>
<line x1="74.6" y1="863.5" x2="77.5" y2="863.5"/>
</g>
<text transform="translate(73.7,384.1) scale(0.595,1)" font-size="31" text-anchor="end">0</text>
<text transform="translate(73.7,440.5) scale(0.595,1)" font-size="31" text-anchor="end">500</text>
<text transform="translate(73.7,494.8) scale(0.595,1)" font-size="31" text-anchor="end">1000</text>
<text transform="translate(73.7,549.2) scale(0.595,1)" font-size="31" text-anchor="end">1500</text>
<text transform="translate(73.7,603.4) scale(0.595,1)" font-size="31" text-anchor="end">2000</text>
<text transform="translate(73.7,657.4) scale(0.595,1)" font-size="31" text-anchor="end">2500</text>
<text transform="translate(73.7,713.2) scale(0.595,1)" font-size="31" text-anchor="end">3000</text>
<text transform="translate(73.7,767.0) scale(0.595,1)" font-size="31" text-anchor="end">3500</text>
<text transform="translate(73.7,820.7) scale(0.595,1)" font-size="31" text-anchor="end">4000</text>
<text transform="translate(73.7,876.7) scale(0.595,1)" font-size="31" text-anchor="end">4500</text>
<text transform="translate(19.5,712.0) scale(0.595,1) rotate(-90)" font-size="31">Age cal yr BP</text>
<g stroke="#000" stroke-width="0.45">
<text transform="translate(89.7,356.5) scale(0.595,1) rotate(-45)" font-size="31">Arecaceae Mauritia/Mauritiella</text>
<text transform="translate(174.3,356.5) scale(0.595,1) rotate(-45)" font-size="31">Alismataceae Sagittaria</text>
<text transform="translate(199.4,356.5) scale(0.595,1) rotate(-45)" font-size="31">Anacardiaceae Tapiria</text>
<text transform="translate(224.5,356.5) scale(0.595,1) rotate(-45)" font-size="31">Aquifoliaceae Ilex</text>
<text transform="translate(249.5,356.5) scale(0.595,1) rotate(-45)" font-size="31">Burseraceae Protium</text>
<text transform="translate(274.6,356.5) scale(0.595,1) rotate(-45)" font-size="31">Cannabaceae Celtis</text>
<text transform="translate(299.7,356.5) scale(0.595,1) rotate(-45)" font-size="31">Caryocaraceae Caryocar</text>
<text transform="translate(324.8,356.5) scale(0.595,1) rotate(-45)" font-size="31">Chrysobalanaceae Licania</text>
<text transform="translate(349.8,356.5) scale(0.595,1) rotate(-45)" font-size="31">Clusiaceae Garcinia</text>
<text transform="translate(374.9,356.5) scale(0.595,1) rotate(-45)" font-size="31">Erythroxylaceae Erythroxylum</text>
<text transform="translate(400.0,356.5) scale(0.595,1) rotate(-45)" font-size="31">Fabaceae Cassia</text>
<text transform="translate(425.1,356.5) scale(0.595,1) rotate(-45)" font-size="31">Fabaceae Hymenaea</text>
<text transform="translate(450.1,356.5) scale(0.595,1) rotate(-45)" font-size="31">Humiriaceae Humiria</text>
<text transform="translate(475.2,356.5) scale(0.595,1) rotate(-45)" font-size="31">Lecythidaceae Eschweilera</text>
<text transform="translate(500.3,356.5) scale(0.595,1) rotate(-45)" font-size="31">Malvaceae Theobroma</text>
<text transform="translate(525.4,356.5) scale(0.595,1) rotate(-45)" font-size="31">Malpighiaceae Byrsonima</text>
<text transform="translate(550.4,356.5) scale(0.595,1) rotate(-45)" font-size="31">Moraceae Brosimum</text>
<text transform="translate(575.5,356.5) scale(0.595,1) rotate(-45)" font-size="31">Sapindaceae Paullinia</text>
<text transform="translate(600.6,356.5) scale(0.595,1) rotate(-45)" font-size="31">Solanaceae Solanum</text>
<text transform="translate(625.7,356.5) scale(0.595,1) rotate(-45)" font-size="31">Sapotaceae Pouteria</text>
<text transform="translate(650.7,356.5) scale(0.595,1) rotate(-45)" font-size="31">Urticaceae Cecropia</text>
<text transform="translate(675.8,356.5) scale(0.595,1) rotate(-45)" font-size="31">Zea mays</text>
<text transform="translate(700.9,356.5) scale(0.595,1) rotate(-45)" font-size="31">Manihot</text>
<text transform="translate(726.0,356.5) scale(0.595,1) rotate(-45)" font-size="31">Ipomoea</text>
<text transform="translate(751.0,356.5) scale(0.595,1) rotate(-45)" font-size="31">Cucurbita</text>
<text transform="translate(776.1,356.5) scale(0.595,1) rotate(-45)" font-size="31">Araliaceae Didymopanax</text>
<text transform="translate(801.2,356.5) scale(0.595,1) rotate(-45)" font-size="31">Bignoniaceae</text>
<text transform="translate(826.3,356.5) scale(0.595,1) rotate(-45)" font-size="31">Bignoniaceae Arrabidea</text>
<text transform="translate(851.4,356.5) scale(0.595,1) rotate(-45)" font-size="31">Clusiaceae Symphonia</text>
<text transform="translate(876.4,356.5) scale(0.595,1) rotate(-45)" font-size="31">Combretaceae/Melastomataceae</text>
<text transform="translate(901.5,356.5) scale(0.595,1) rotate(-45)" font-size="31">Cyperaceae</text>
<text transform="translate(926.6,356.5) scale(0.595,1) rotate(-45)" font-size="31">Euphorbiaceae Alcornea</text>
<text transform="translate(951.7,356.5) scale(0.595,1) rotate(-45)" font-size="31">Euphorbiaceae Sapium</text>
<text transform="translate(976.7,356.5) scale(0.595,1) rotate(-45)" font-size="31">Fabaceae Apuleia</text>
<text transform="translate(1001.8,356.5) scale(0.595,1) rotate(-45)" font-size="31">Fabaceae Bauhinia</text>
<text transform="translate(1026.9,356.5) scale(0.595,1) rotate(-45)" font-size="31">Fabaceae Bowdichia</text>
<text transform="translate(1052.0,356.5) scale(0.595,1) rotate(-45)" font-size="31">Fabaceae Dalbergia</text>
<text transform="translate(1077.0,356.5) scale(0.595,1) rotate(-45)" font-size="31">Fabaceae Machaerium</text>
<text transform="translate(1102.1,356.5) scale(0.595,1) rotate(-45)" font-size="31">Lentibulariaceae Utricularia</text>
<text transform="translate(1127.2,356.5) scale(0.595,1) rotate(-45)" font-size="31">Myrtaceae</text>
<text transform="translate(1152.3,356.5) scale(0.595,1) rotate(-45)" font-size="31">Meliaceae</text>
<text transform="translate(1177.3,356.5) scale(0.595,1) rotate(-45)" font-size="31">Moraceae/Urticaceae</text>
<text transform="translate(1237.0,356.5) scale(0.595,1) rotate(-45)" font-size="31">Myristicaceae Virola</text>
<text transform="translate(1263.1,356.5) scale(0.595,1) rotate(-45)" font-size="31">Sapindaceae</text>
<text transform="translate(1287.3,356.5) scale(0.595,1) rotate(-45)" font-size="31">Solanaceae</text>
<text transform="translate(1313.3,356.5) scale(0.595,1) rotate(-45)" font-size="31">Asteraceae Ambrosia</text>
<text transform="translate(1349.8,356.5) scale(0.595,1) rotate(-45)" font-size="31">Poaceae</text>
<text transform="translate(1393.5,344.5) scale(0.595,1) rotate(-45)" font-size="31">Pollen Accumulation Rate</text>
</g>
<g stroke="#000" stroke-width="2.3" fill="none">
<polyline points="265.7,45.4 283.6,16.3 438.3,16.3" fill="none"/>
<polyline points="690.9,16.3 845.3,16.3 770.2,141.5" fill="none"/>
<polyline points="730.5,247.3 871.3,16.3 876.7,16.3" fill="none"/>
<polyline points="938.2,16.3 945.0,16.3 807.0,250.0" fill="none"/>
<polyline points="923.2,97.0 969.7,16.3 1123.6,16.3" fill="none"/>
<polyline points="1390.0,16.3 1545.0,16.3 1399.5,255.2" fill="none"/>
</g>
<text transform="translate(447.5,28.3) scale(0.595,1)" font-size="31">Edible trees, Palms , &amp; Herbs</text>
<text transform="translate(882.2,28.3) scale(0.595,1)" font-size="31">Crops</text>
<text transform="translate(1130.4,28.3) scale(0.595,1)" font-size="31">Other Trees, Palms, and Herbs</text>
<text transform="translate(1418.5,346.5) scale(0.595,1)" font-size="31">Euclidean</text>
<text transform="translate(1506.8,346.5) scale(0.595,1)" font-size="31">Jaccard</text>
<text transform="translate(1642.7,346.3) scale(0.595,1)" font-size="31">CONISS</text>
<text transform="translate(107.0,900.0) scale(0.595,1)" font-size="31" text-anchor="middle">20</text>
<text transform="translate(131.0,900.0) scale(0.595,1)" font-size="31" text-anchor="middle">40</text>
<text transform="translate(155.0,900.0) scale(0.595,1)" font-size="31" text-anchor="middle">60</text>
<text transform="translate(1205.0,900.0) scale(0.595,1)" font-size="31" text-anchor="middle">2040</text>
<text transform="translate(1330.0,900.0) scale(0.595,1)" font-size="31" text-anchor="middle">20</text>
<g stroke="#000" stroke-width="2.3" fill="none">
<polyline points="1374.8,869.4 1374.8,859.9 1422.4,859.9 1422.4,869.4" fill="none"/>
<line x1="1398.5" y1="859.9" x2="1398.5" y2="869.4"/>
<polyline points="1440.3,869.4 1440.3,859.9 1487.6,859.9 1487.6,869.4" fill="none"/>
<line x1="1452.0" y1="859.9" x2="1452.0" y2="869.4"/>
<line x1="1463.8" y1="859.9" x2="1463.8" y2="869.4"/>
<line x1="1475.7" y1="859.9" x2="1475.7" y2="869.4"/>
<polyline points="1506.7,869.4 1506.7,859.9 1553.5,859.9 1553.5,869.4" fill="none"/>
<line x1="1518.4" y1="859.9" x2="1518.4" y2="869.4"/>
<line x1="1530.0" y1="859.9" x2="1530.0" y2="869.4"/>
<line x1="1541.7" y1="859.9" x2="1541.7" y2="869.4"/>
</g>
<text transform="translate(1370.0,896.0) scale(0.595,1)" font-size="31" text-anchor="middle">0</text>
<text transform="translate(1411.0,896.0) scale(0.595,1)" font-size="31" text-anchor="middle">8000</text>
<text transform="translate(1443.3,896.0) scale(0.595,1)" font-size="31" text-anchor="middle">0</text>
<text transform="translate(1479.0,896.0) scale(0.595,1)" font-size="31" text-anchor="middle">40</text>
<text transform="translate(1507.5,896.0) scale(0.595,1)" font-size="31" text-anchor="middle">.3</text>
<text transform="translate(1533.5,896.0) scale(0.595,1)" font-size="31" text-anchor="middle">.5</text>
<text transform="translate(1554.5,896.0) scale(0.595,1)" font-size="31" text-anchor="middle">.7</text>
<text transform="translate(1642.0,896.0) scale(0.595,1)" font-size="31" text-anchor="middle">2</text>
<text transform="translate(1666.0,896.0) scale(0.595,1)" font-size="31" text-anchor="middle">4</text>
<text transform="translate(1689.7,896.0) scale(0.595,1)" font-size="31" text-anchor="middle">6</text>
<text transform="translate(1712.2,896.0) scale(0.595,1)" font-size="31" text-anchor="middle">8</text>
<text transform="translate(1737.0,896.0) scale(0.595,1)" font-size="31" text-anchor="middle">10</text>
<text transform="translate(1608.8,938.3) scale(0.595,1)" font-size="31">Total sum of squares</text>
<text transform="translate(1326.0,939.8) scale(0.785,1)" font-size="26.8" font-family="'DejaVu Sans', sans-serif">grains cm</text>
<text transform="translate(1429.4,927.5) scale(0.785,1)" font-size="25" font-family="'DejaVu Sans', sans-serif">2</text>
<text transform="translate(1437.5,939.8) scale(0.83,1)" font-size="26.8" font-family="'DejaVu Sans', sans-serif">/yr</text>
</g>
</svg>
</body></html>
